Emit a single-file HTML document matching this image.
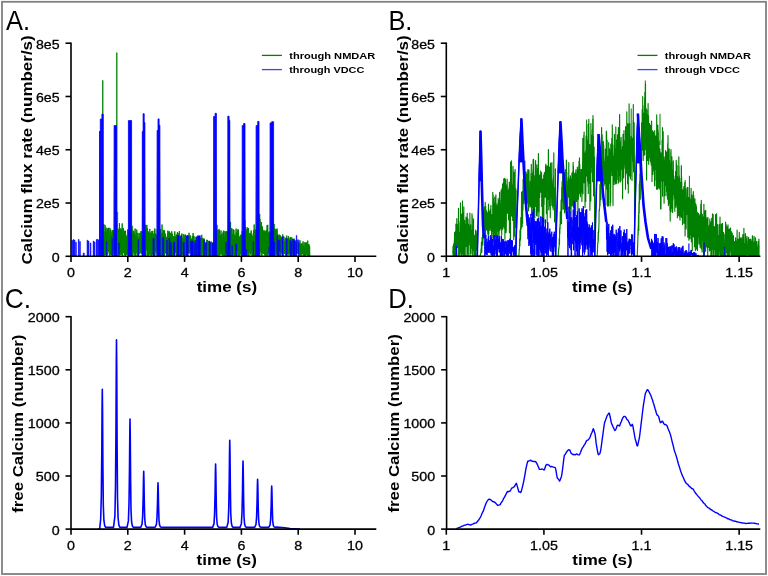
<!DOCTYPE html>
<html><head><meta charset="utf-8"><title>Calcium flux</title>
<style>html,body{margin:0;padding:0;background:#fff;}svg{display:block;will-change:transform;}
text{font-family:"Liberation Sans", sans-serif;}</style></head>
<body><svg width="768" height="576" viewBox="0 0 768 576" font-family='"Liberation Sans", sans-serif' fill="#000"><rect x="0" y="0" width="768" height="576" fill="#fff"/>
<path d="M101.96 241.28 102.04 254.71 102.12 241.08 102.2 243.61 102.28 254.79 102.36 239.77 102.44 241.37 102.52 248.13 102.6 236.43 102.68 251.37 102.76 236.1 102.84 256.21 102.92 251.03 103 253.41 103.08 249.63 103.16 254.14 103.24 234.01 103.32 225.75 103.4 233.75 103.48 229.69 103.56 230.94 103.64 235.08 103.72 239 103.8 233.95 103.88 253.12 103.96 248.67 104.04 251.02 104.12 247.46 104.2 249.68 104.28 237.09 104.36 254.8 104.44 237.03 104.52 236.41 104.6 237.98 104.68 249.53 104.76 237.43 104.84 231.79 104.92 255.36 105 237.34 105.08 225.14 105.16 234.32 105.24 236.87 105.32 249.22 105.4 250.6 105.48 234.19 105.56 234.65 105.64 236.57 105.72 254.81 105.8 230.89 105.88 241.05 105.96 249.21 106.04 227.53 106.12 237.09 106.2 239.4 106.28 239.94 106.36 237.2 106.44 250.38 106.52 239.66 106.6 238.61 106.68 255.93 106.76 249.63 106.84 234.53 106.92 237.74 107 232.29 107.08 240.95 107.16 237.44 107.24 228.92 107.32 236.86 107.4 233.07 107.48 254.48 107.56 254.95 107.64 240.02 107.72 251.44 107.8 254.08 107.88 232.12 107.96 228.25 108.04 234.11 108.12 228.51 108.2 232.34 108.28 232.25 108.36 235.57 108.44 236.85 108.52 238.04 108.6 251.64 108.68 234.87 108.76 242.8 108.84 241.61 108.92 227.72 109 237.77 109.08 239.87 109.16 236.88 109.24 237.48 109.32 248.34 109.4 240.36 109.48 243.95 109.56 251.02 109.64 255.38 109.72 255.74 109.8 236.37 109.88 241.35 109.96 238.37 110.04 228.32 110.12 233.45 110.2 236.33 110.28 243.61 110.36 231.28 110.44 255.05 110.52 239.94 110.6 232.61 110.68 237.28 110.76 251.16 110.84 229.77 110.92 241.09 111 235.26 111.08 243.98 111.16 240.16 111.24 251.21 111.32 239.37 111.4 242.25 111.48 249.71 111.56 255.12 111.64 237.2 111.72 250.23 111.8 251.2 111.88 253.17 111.96 254.23 112.04 231.61 112.12 249.75 112.2 235.51 112.28 241.57 112.36 253.01 112.44 255.15 112.52 243.04 112.6 239.68 112.68 252.95 112.76 237.62 112.84 229.95 112.92 255.57 113 248.82 113.08 235.22 113.16 240.79 113.24 230.23 113.32 253.34 113.4 239.9 113.48 244.88 113.56 233.58 113.64 251.52 113.72 250.5 113.8 246.46 113.88 253.07 113.96 250.25 114.04 238.43 114.12 234.21 114.2 244.01 114.28 248.85 114.36 232.8 114.44 245.06 114.52 250.39 114.6 238.77 114.68 234.78 114.76 238 114.84 253.53 114.92 242.34 115 244.76 115.08 235.19 115.16 242.47 115.24 241.53 115.32 236.52 115.4 235.07 115.48 238.12 115.56 237.24 115.64 237.42 115.72 243.04 115.8 253.47 115.88 245.21 115.96 242.65 116.04 239.93 116.12 252.96 116.2 245.05 116.28 223.62 116.36 234.38 116.44 222.61 116.52 249.04 116.6 240.06 116.68 227.18 116.76 234.99 116.84 228.43 116.92 239.59 117 249.62 117.08 225.09 117.16 245.02 117.24 231.13 117.32 230.81 117.4 247.15 117.48 253.41 117.56 255.67 117.64 231.31 117.72 255.03 117.8 232.51 117.88 233.05 117.96 231.48 118.04 252.32 118.12 233.86 118.2 230.79 118.28 253.77 118.36 234.08 118.44 252.12 118.52 252.28 118.6 253.95 118.68 228.91 118.76 231.21 118.84 248.4 118.92 228.84 119 243.55 119.08 248.29 119.16 244 119.24 249.41 119.32 243.73 119.4 225.7 119.48 223.12 119.56 235.88 119.64 231.73 119.72 228.26 119.8 254.84 119.88 228.15 119.96 249.28 120.04 245.37 120.12 250.23 120.2 255.21 120.28 240.87 120.36 249.21 120.44 251.03 120.52 250.23 120.6 252.48 120.68 252.26 120.76 229.75 120.84 231.83 120.92 231.17 121 250.78 121.08 228.71 121.16 242.17 121.24 249.32 121.32 245.35 121.4 252.91 121.48 230.68 121.56 239.44 121.64 255.06 121.72 252.95 121.8 251 121.88 235.34 121.96 238.87 122.04 231.66 122.12 252.06 122.2 223.45 122.28 237.69 122.36 250.54 122.44 246.37 122.52 241.36 122.6 255.72 122.68 234.32 122.76 242.93 122.84 241.35 122.92 233.29 123 239.37 123.08 237.91 123.16 238.62 123.24 234.59 123.32 227.92 123.4 233.61 123.48 250.41 123.56 235.07 123.64 253.05 123.72 241.62 123.8 239.44 123.88 236.2 123.96 237.5 124.04 244.27 124.12 250.34 124.2 253.19 124.28 238.34 124.36 254.36 124.44 254.83 124.52 253.15 124.6 230.7 124.68 254.06 124.76 238.3 124.84 240.31 124.92 240 125 255.36 125.08 234.25 125.16 251.53 125.24 237.46 125.32 237.7 125.4 255.68 125.48 241.02 125.56 230.82 125.64 239.82 125.72 243.17 125.8 250.93 125.88 236.4 125.96 239.44 126.04 243.26 126.12 241.84 126.2 248.84 126.28 236.65 126.36 251.38 126.44 236.36 126.52 254.78 126.6 254.33 126.68 245.71 126.76 244.97 126.84 239.19 126.92 242.07 127 238.99 127.08 244 127.16 234.82 127.24 254.68 127.32 249.96 127.4 252.44 127.48 241.08 127.56 248.03 127.64 229.46 127.72 242 127.8 231.77 127.88 241.44 127.96 239.71 128.04 241.39 128.12 254.24 128.2 254.88 128.28 255.48 128.36 231.51 128.44 244.15 128.52 251.01 128.6 237.32 128.68 254.55 128.76 233.94 128.84 239.36 128.92 243.99 129 242.96 129.08 243.46 129.16 231.19 129.24 238.6 129.32 236.71 129.4 251.29 129.48 229.13 129.56 235.42 129.64 234.11 129.72 231.64 129.8 236.31 129.88 240.7 129.96 253.34 130.04 244.53 130.12 242.79 130.2 251.15 130.28 252.81 130.36 238.58 130.44 239.8 130.52 256.16 130.6 235.34 130.68 251.33 130.76 249.45 130.84 228.54 130.92 240.8 131 250.89 131.08 247.63 131.16 250.26 131.24 236.4 131.32 254.37 131.4 249.51 131.48 230.4 131.56 233.92 131.64 249.87 131.72 233.28 131.8 230.07 131.88 250.41 131.96 238.33 132.04 255.31 132.12 252.03 132.2 233.74 132.28 234.2 132.36 234.36 132.44 240.4 132.52 236.24 132.6 247.09 132.68 234.52 132.76 237.97 132.84 255.68 132.92 248.5 133 250.49 133.08 244.7 133.16 237.24 133.24 235.83 133.32 252.3 133.4 232.3 133.48 248.28 133.56 239.07 133.64 244.91 133.72 230.73 133.8 249.85 133.88 241.85 133.96 232.45 134.04 245.97 134.12 233.18 134.2 253.74 134.28 243.82 134.36 241.61 134.44 253.73 134.52 250.82 134.6 238.84 134.68 250.16 134.76 255.48 134.84 241.61 134.92 242.72 135 235.88 135.08 228.58 135.16 228.64 135.24 236.7 135.32 239.08 135.4 254.51 135.48 244.48 135.56 239.02 135.64 235.38 135.72 238.81 135.8 255.72 135.88 238.02 135.96 253.38 136.04 242.08 136.12 250.34 136.2 238.57 136.28 245.44 136.36 236.75 136.44 232.89 136.52 237.72 136.6 241.68 136.68 243.45 136.76 229.6 136.84 242.97 136.92 236.24 137 253.18 137.08 243.39 137.16 243.87 137.24 252.68 137.32 239.91 137.4 255.75 137.48 240.39 137.56 242.85 137.64 253.79 137.72 239.45 137.8 237.52 137.88 241.28 137.96 232.86 138.04 253.82 138.12 245.81 138.2 240.68 138.28 247.76 138.36 250.41 138.44 256.24 138.52 243.1 138.6 240.54 138.68 239.92 138.76 243.29 138.84 254.79 138.92 246.69 139 250.3 139.08 253.68 139.16 235.7 139.24 232.93 139.32 246.78 139.4 240.95 139.48 243.73 139.56 237.92 139.64 237.32 139.72 241.38 139.8 253.51 139.88 251.01 139.96 241.39 140.04 236.98 140.12 241.6 140.2 250.22 140.28 237.51 140.36 242.76 140.44 253.1 140.52 234.73 140.6 242.25 140.68 236.34 140.76 233.95 140.84 246.72 140.92 231.34 141 252.91 141.08 234.32 141.16 251.49 141.24 251.96 141.32 231.36 141.4 243.9 141.48 239.69 141.56 233.92 141.64 238.53 141.72 253.91 141.8 252.23 141.88 246.47 141.96 239.35 142.04 254.07 142.12 235.99 142.2 251.91 142.28 245.64 142.36 252.73 142.44 237.69 142.52 239.3 142.6 245.83 142.68 246.24 142.76 237.65 142.84 242.99 142.92 241.28 143 245.34 143.08 238.22 143.16 253.84 143.24 242.87 143.32 248.43 143.4 242.56 143.48 235.98 143.56 231.1 143.64 233.17 143.72 245.02 143.8 253.17 143.88 235.2 143.96 231.07 144.04 252.98 144.12 253.71 144.2 247.25 144.28 238.9 144.36 230.82 144.44 254.2 144.52 232.5 144.6 249.76 144.68 249.52 144.76 235.75 144.84 255.54 144.92 253.78 145 240.7 145.08 232.25 145.16 234.49 145.24 239.5 145.32 251.41 145.4 236.6 145.48 250.4 145.56 240.68 145.64 225.58 145.72 252.58 145.8 255.53 145.88 254.44 145.96 226.56 146.04 237.31 146.12 240.13 146.2 229 146.28 240.4 146.36 243.61 146.44 233.11 146.52 238.34 146.6 250.4 146.68 239.76 146.76 237 146.84 224.86 146.92 241.78 147 239.02 147.08 237.73 147.16 233.69 147.24 228.07 147.32 254.6 147.4 254.93 147.48 253.33 147.56 229.51 147.64 255.56 147.72 240.52 147.8 252.45 147.88 250.21 147.96 232.84 148.04 233.92 148.12 232.86 148.2 231.45 148.28 252.93 148.36 236.33 148.44 255.15 148.52 239.9 148.6 232.4 148.68 238.03 148.76 250.54 148.84 255.75 148.92 243.57 149 254.72 149.08 242.62 149.16 232.39 149.24 238.36 149.32 253.72 149.4 244.14 149.48 234.28 149.56 237.77 149.64 233.51 149.72 231.24 149.8 228.9 149.88 234.04 149.96 237.71 150.04 253.65 150.12 251.93 150.2 240.18 150.28 244.47 150.36 254.53 150.44 242.12 150.52 240.49 150.6 232.76 150.68 243.88 150.76 242.98 150.84 237.82 150.92 254.57 151 236.78 151.08 253.34 151.16 256.22 151.24 242.93 151.32 241.22 151.4 242.94 151.48 240.73 151.56 239.48 151.64 254.81 151.72 231.13 151.8 246.15 151.88 254.42 151.96 234.13 152.04 240.03 152.12 245.29 152.2 250.61 152.28 251.58 152.36 239.07 152.44 230.93 152.52 234.77 152.6 245.45 152.68 254.4 152.76 254.71 152.84 246.14 152.92 244.8 153 238.95 153.08 243.99 153.16 236.62 153.24 241.41 153.32 233.68 153.4 238.28 153.48 250.63 153.56 253.79 153.64 243.7 153.72 245.7 153.8 237.63 153.88 254.24 153.96 256.21 154.04 235.69 154.12 248.42 154.2 235.04 154.28 230.55 154.36 240.55 154.44 250.83 154.52 247.87 154.6 235.06 154.68 256.03 154.76 246.35 154.84 228.48 154.92 230.74 155 237.42 155.08 243.16 155.16 244.82 155.24 250.65 155.32 233.59 155.4 237.32 155.48 234.23 155.56 234.75 155.64 251.74 155.72 240.93 155.8 245.17 155.88 250.84 155.96 244.74 156.04 250.47 156.12 254.49 156.2 238.52 156.28 234.54 156.36 243.3 156.44 237.99 156.52 240.84 156.6 243.59 156.68 250.21 156.76 242.42 156.84 239.56 156.92 249.65 157 240.99 157.08 236.79 157.16 246.37 157.24 229.54 157.32 232.11 157.4 234.76 157.48 239.69 157.56 236.28 157.64 238.63 157.72 242.18 157.8 247.28 157.88 239.96 157.96 253.03 158.04 242.91 158.12 238.23 158.2 237.41 158.28 242.62 158.36 244.21 158.44 253.32 158.52 236.08 158.6 231.15 158.68 231.39 158.76 239.86 158.84 238.54 158.92 239.25 159 243.08 159.08 255.2 159.16 241.45 159.24 235.71 159.32 236.3 159.4 236.3 159.48 228.66 159.56 252.92 159.64 255.2 159.72 232.73 159.8 239.67 159.88 238.36 159.96 239.93 160.04 229.62 160.12 240.14 160.2 238.69 160.28 254.56 160.36 235.94 160.44 234.74 160.52 232.67 160.6 255.86 160.68 252.99 160.76 244.38 160.84 246.56 160.92 244.57 161 238.49 161.08 250.28 161.16 242.55 161.24 244.05 161.32 235.64 161.4 241.08 161.48 236.91 161.56 256.21 161.64 241.84 161.72 254.92 161.8 236.51 161.88 234.18 161.96 245.64 162.04 224.49 162.12 237.14 162.2 232.64 162.28 243.94 162.36 252.07 162.44 255.12 162.52 238.5 162.6 233.61 162.68 245.63 162.76 250.93 162.84 241.08 162.92 242.53 163 242.59 163.08 241 163.16 234.52 163.24 252.27 163.32 229.93 163.4 250.85 163.48 236.09 163.56 238.76 163.64 244.93 163.72 238.26 163.8 255.52 163.88 230.16 163.96 235.82 164.04 233.58 164.12 240.46 164.2 255.74 164.28 250.84 164.36 230.35 164.44 239.66 164.52 240.76 164.6 231.02 164.68 236.46 164.76 251.54 164.84 244.43 164.92 246.11 165 239.58 165.08 236.73 165.16 234.11 165.24 241.94 165.32 252.67 165.4 241.23 165.48 253.35 165.56 233.76 165.64 252.33 165.72 237.39 165.8 244.14 165.88 237.77 165.96 243.9 166.04 239.43 166.12 236.83 166.2 236.84 166.28 252.69 166.36 254.78 166.44 254.26 166.52 240.62 166.6 241.13 166.68 246.61 166.76 251.5 166.84 243.18 166.92 239.2 167 250.65 167.08 238.43 167.16 240.81 167.24 247.71 167.32 254.7 167.4 238.8 167.48 240.97 167.56 252.12 167.64 246.22 167.72 230.76 167.8 238.02 167.88 240.45 167.96 248.83 168.04 255.11 168.12 234.91 168.2 250.99 168.28 254.2 168.36 234.41 168.44 239.91 168.52 232.36 168.6 255.78 168.68 248.86 168.76 252.97 168.84 251.63 168.92 244.59 169 230.88 169.08 241.49 169.16 232.12 169.24 236.15 169.32 244.61 169.4 253.66 169.48 240.45 169.56 251.7 169.64 253.2 169.72 233.5 169.8 237.99 169.88 238.92 169.96 237.49 170.04 239.44 170.12 251.58 170.2 241.42 170.28 233.05 170.36 241.49 170.44 252.48 170.52 256.22 170.6 232.83 170.68 235.33 170.76 240.54 170.84 243.25 170.92 239.29 171 241.87 171.08 248.86 171.16 238.13 171.24 254.64 171.32 242.38 171.4 239.57 171.48 255.5 171.56 254.47 171.64 238.33 171.72 231.32 171.8 232.29 171.88 241.49 171.96 252.27 172.04 246.51 172.12 256.18 172.2 245.32 172.28 254.84 172.36 233.88 172.44 252.64 172.52 256.3 172.6 250.94 172.68 236.68 172.76 254.82 172.84 241.83 172.92 239.3 173 245.48 173.08 254.7 173.16 237.05 173.24 253.58 173.32 240.16 173.4 240.95 173.48 246.91 173.56 236.29 173.64 244.26 173.72 245.43 173.8 237.75 173.88 243.32 173.96 239.43 174.04 251.65 174.12 240.92 174.2 243.43 174.28 241.15 174.36 252.22 174.44 252.59 174.52 243.48 174.6 239.63 174.68 246.31 174.76 231.4 174.84 233.92 174.92 253.69 175 238.45 175.08 252.43 175.16 249.98 175.24 239.39 175.32 236.38 175.4 250.44 175.48 245.61 175.56 237.71 175.64 242.63 175.72 240.23 175.8 236.95 175.88 240.11 175.96 251.98 176.04 239.62 176.12 250.89 176.2 239.74 176.28 234.38 176.36 256.29 176.44 251.26 176.52 255.85 176.6 253.17 176.68 240.05 176.76 239.42 176.84 250.56 176.92 252.57 177 251.4 177.08 253.78 177.16 251.15 177.24 239.74 177.32 251.18 177.4 232.11 177.48 242.82 177.56 253.25 177.64 237.65 177.72 242.59 177.8 241.84 177.88 247.59 177.96 252.41 178.04 234.94 178.12 255.75 178.2 252.34 178.28 235.3 178.36 246.62 178.44 237.03 178.52 236.02 178.6 255.95 178.68 241.84 178.76 242.48 178.84 233.3 178.92 232.95 179 256.04 179.08 252.78 179.16 246.07 179.24 241.94 179.32 236.76 179.4 231 179.48 242.22 179.56 246.76 179.64 250.76 179.72 252.08 179.8 245.78 179.88 239.66 179.96 246.33 180.04 237.06 180.12 236.15 180.2 253.98 180.28 256.21 180.36 246.49 180.44 245.87 180.52 255.22 180.6 247.3 180.68 239.59 180.76 247.73 180.84 255.67 180.92 254.6 181 244.77 181.08 252.6 181.16 238.45 181.24 235.53 181.32 255.11 181.4 238.76 181.48 253.88 181.56 238.14 181.64 251.8 181.72 237.8 181.8 233.57 181.88 237.19 181.96 248.38 182.04 244.86 182.12 237.63 182.2 237.8 182.28 244.1 182.36 255.12 182.44 242.22 182.52 247.32 182.6 251.17 182.68 252.56 182.76 247.7 182.84 242.34 182.92 249.6 183 241.1 183.08 245.99 183.16 245.17 183.24 234.08 183.32 246.27 183.4 247.35 183.48 247.08 183.56 252.2 183.64 239.01 183.72 239.18 183.8 253.01 183.88 239.29 183.96 243.93 184.04 244.19 184.12 241.51 184.2 246.74 184.28 240.21 184.36 254.85 184.44 255.75 184.52 245.87 184.6 247.11 184.68 241.33 184.76 242.77 184.84 234.62 184.92 255.11 185 245.36 185.08 255.52 185.16 239.33 185.24 236.45 185.32 238.54 185.4 246.45 185.48 234.73 185.56 243.1 185.64 255.22 185.72 245 185.8 251.76 185.88 242.21 185.96 245.13 186.04 246.84 186.12 246.26 186.2 242.62 186.28 254.68 186.36 244.72 186.44 252.65 186.52 243.88 186.6 245.15 186.68 252.17 186.76 253.91 186.84 242.98 186.92 237.67 187 250.49 187.08 236.28 187.16 252.04 187.24 244.89 187.32 243.12 187.4 255.85 187.48 235.09 187.56 236.03 187.64 239.95 187.72 251.57 187.8 239.37 187.88 243.02 187.96 252.08 188.04 251.48 188.12 239.28 188.2 242.64 188.28 240.6 188.36 239.18 188.44 235.87 188.52 239.45 188.6 252.96 188.68 238.53 188.76 243.23 188.84 252.63 188.92 243.46 189 232.79 189.08 253.59 189.16 251.75 189.24 252.88 189.32 245.29 189.4 238.37 189.48 244.61 189.56 253.39 189.64 235.48 189.72 243.29 189.8 236.47 189.88 252.15 189.96 241.2 190.04 251.61 190.12 244.35 190.2 247.4 190.28 239.54 190.36 249.32 190.44 241.27 190.52 235.64 190.6 241.96 190.68 238.09 190.76 240.48 190.84 247.59 190.92 241.55 191 244.04 191.08 249.05 191.16 243.6 191.24 251.08 191.32 247.58 191.4 254.93 191.48 244.58 191.56 251.32 191.64 240.26 191.72 238.67 191.8 245.12 191.88 240.19 191.96 242.37 192.04 252.12 192.12 253.85 192.2 243.12 192.28 237.18 192.36 235.97 192.44 239.86 192.52 253.15 192.6 240.55 192.68 251.66 192.76 256.03 192.84 251.87 192.92 247.46 193 248.31 193.08 233.15 193.16 254.94 193.24 236.12 193.32 241.14 193.4 236.15 193.48 240.76 193.56 240.38 193.64 242.33 193.72 239.69 193.8 256.12 193.88 244.41 193.96 241.27 194.04 236.27 194.12 239.02 194.2 254.04 194.28 241.1 194.36 248.39 194.44 240.16 194.52 244.35 194.6 247.48 194.68 240.69 194.76 252.63 194.84 248.44 194.92 255.63 195 242.94 195.08 255.37 195.16 254.99 195.24 251.75 195.32 244.17 195.4 240.17 195.48 244.3 195.56 241.68 195.64 243.67 195.72 255.13 195.8 251.89 195.88 243.53 195.96 241.93 196.04 253.14 196.12 251.65 196.2 241.47 196.28 247.07 196.36 237.11 196.44 238.15 196.52 243.95 196.6 241.43 196.68 236.74 196.76 244.18 196.84 243.2 196.92 255.44 197 248.71 197.08 251.79 197.16 236.96 197.24 256.24 197.32 240.85 197.4 241.47 197.48 252.05 197.56 251.7 197.64 243.14 197.72 236.93 197.8 241.03 197.88 256.27 197.96 241.08 198.04 240.02 198.12 237 198.2 246.67 198.28 243.04 198.36 243.38 198.44 252.43 198.52 246.1 198.6 243.54 198.68 242.7 198.76 246.88 198.84 254.45 198.92 252.15 199 247.06 199.08 239.21 199.16 239.04 199.24 241.76 199.32 252.83 199.4 249.01 199.48 252.77 199.56 238.24 199.64 238.97 199.72 250.11 199.8 243.57 199.88 241.12 199.96 243.93 200.04 253.63 200.12 252.61 200.2 252.86 200.28 242.68 200.36 246.24 200.44 241.9 200.52 246.57 200.6 243.37 200.68 237.95 200.76 244.59 200.84 241.8 200.92 243.84 201 241.39 201.08 256.12 201.16 245.51 201.24 243.41 201.32 256.3 201.4 244.02 201.48 252.39 201.56 253.83 201.64 242.98 201.72 234.77 201.8 243.64 201.88 252.62 201.96 256 202.04 253.37 202.12 237.83 202.2 252.08 202.28 248.37 202.36 242.45 202.44 242.61 202.52 244.58 202.6 243.77 202.68 238.06 202.76 252.18 202.84 242.63 202.92 254.55 203 241.83 203.08 243.79 203.16 240.65 203.24 245.08 203.32 256.05 203.4 243.2 203.48 251.29 203.56 238.63 203.64 253.69 203.72 245.6 203.8 253.67 203.88 244.44 203.96 238.58 204.04 255.44 204.12 239.47 204.2 244.89 204.28 252.74 204.36 248.46 204.44 239.02 204.52 252.15 204.6 253.49 204.68 255.38 204.76 252.29 204.84 252.42 204.92 254.9 205 252.11 205.08 252.66 205.16 249.41 205.24 254.15 205.32 254.59 205.4 253.44 205.48 245.88 205.56 243.68 205.64 243.59 205.72 253.03 205.8 254.92 205.88 245.15 205.96 243.33 206.04 251.12 206.12 242.43 206.2 246.86 206.28 253.06 206.36 251.95 206.44 243.74 206.52 244.03 206.6 246.49 206.68 248.45 206.76 256.03 206.84 239.77 206.92 255.8 207 245.74 207.08 253.69 207.16 247.73 207.24 242.94 207.32 239.96 207.4 245.9 207.48 244.16 207.56 241.51 207.64 248.6 207.72 254.08 207.8 248.32 207.88 245.24 207.96 243.55 208.04 252.25 208.12 246.44 208.2 243.41 208.28 248.71 208.36 248.83 208.44 255.86 208.52 241.2 208.6 246.72 208.68 241.34 208.76 243.63 208.84 246.46 208.92 244.44 209 248.23 209.08 242.82 209.16 240.72 209.24 245.99 209.32 254.74 209.4 247.11 209.48 247.63 209.56 244.79 209.64 250.36 209.72 246.93 209.8 248.27 209.88 254.41 209.96 249.48 210.04 243.44 210.12 255.02 210.2 254.7 210.28 245.81 210.36 256.06 210.44 250.18 210.52 246.86 210.6 256.04 210.68 246.27 210.76 255.16 210.84 243.59 210.92 244.89 211 243.99 211.08 256.09 211.16 253 211.24 242.39 211.32 255 211.4 241.64 211.48 252.98 211.56 250.68 211.64 253.75 211.72 251.09 211.8 253.22 211.88 244.59 211.96 247.42 212.04 254.11 212.12 255.4 212.2 244.41 212.28 250.08 212.36 254.12 212.44 249.94 212.52 245.16 212.6 248.4 212.68 248.95 212.76 253.86 212.84 245.88 212.92 244.61 213 254.24 213.08 242.19 213.16 245.69 213.24 246.52 213.32 243.74 213.4 255.03 213.48 249.52 213.56 253.19 213.64 243.21 213.72 255.74 213.8 245.69 213.88 244.94 213.96 246.56 214.04 251.02 214.12 255.51 214.2 244.97 214.28 243.32 214.36 254.38 214.44 245.6 214.52 241.02 214.6 249.41 214.68 254.13 214.76 243.52 214.84 253.93 214.92 253.37 215 246.17 215.08 255.44 215.16 255.5 215.24 253.57 215.32 245.34 215.4 244.16 215.48 244.57 215.56 252.93 215.64 253.22 215.72 251.29 215.8 252.35 215.88 241.17 215.96 238.75 216.04 251.98 216.12 255.01 216.2 250.91 216.28 228.38 216.36 247.68 216.44 237.52 216.52 244.19 216.6 255.85 216.68 235.84 216.76 256.23 216.84 236.08 216.92 237.02 217 252.43 217.08 230.64 217.16 253.31 217.24 253.81 217.32 253.98 217.4 247.31 217.48 245.08 217.56 250.19 217.64 255.57 217.72 230.26 217.8 235.18 217.88 251.94 217.96 239.71 218.04 229.99 218.12 239.95 218.2 239.41 218.28 238.9 218.36 255.61 218.44 231.19 218.52 241.63 218.6 233.44 218.68 253.79 218.76 239.25 218.84 254.4 218.92 255.26 219 228.98 219.08 244.25 219.16 232.91 219.24 241.83 219.32 243.38 219.4 244.31 219.48 242.62 219.56 230.43 219.64 255.32 219.72 237.32 219.8 254.72 219.88 242.96 219.96 251.26 220.04 252.66 220.12 249.52 220.2 240.56 220.28 242.82 220.36 237.62 220.44 237.03 220.52 234.94 220.6 235.03 220.68 249.07 220.76 244.27 220.84 250.96 220.92 254.66 221 230.54 221.08 253.12 221.16 253.4 221.24 234.44 221.32 252.83 221.4 243.39 221.48 245.2 221.56 239.91 221.64 236.4 221.72 250.73 221.8 254.43 221.88 254.39 221.96 239.79 222.04 244.14 222.12 244.33 222.2 242.16 222.28 252.23 222.36 240.76 222.44 254.71 222.52 250.6 222.6 255.44 222.68 247.07 222.76 255.29 222.84 232.69 222.92 244.41 223 252.99 223.08 239.22 223.16 252.88 223.24 237.71 223.32 236.81 223.4 230.76 223.48 230.78 223.56 255.38 223.64 254.62 223.72 252.03 223.8 236.35 223.88 240.1 223.96 254.3 224.04 235.97 224.12 230.87 224.2 252.63 224.28 256.02 224.36 241.98 224.44 249.49 224.52 246.4 224.6 255.05 224.68 255.61 224.76 254.9 224.84 239.48 224.92 237.51 225 252.85 225.08 253.31 225.16 245.11 225.24 236.01 225.32 231.93 225.4 236.41 225.48 237.75 225.56 254.06 225.64 243.57 225.72 236.63 225.8 253.58 225.88 253.91 225.96 231.13 226.04 237.41 226.12 254.53 226.2 246.86 226.28 240.21 226.36 231.4 226.44 251.79 226.52 241.66 226.6 253.24 226.68 253.6 226.76 254.09 226.84 239.36 226.92 235.41 227 249.79 227.08 242.01 227.16 239.96 227.24 255.92 227.32 231.33 227.4 232.52 227.48 239.66 227.56 254.11 227.64 238.45 227.72 254.63 227.8 253.91 227.88 236.36 227.96 251.36 228.04 242.5 228.12 232.35 228.2 252.05 228.28 253.55 228.36 244.97 228.44 240.61 228.52 255.43 228.6 234.98 228.68 249.5 228.76 243.76 228.84 239.36 228.92 240.51 229 250.04 229.08 255.73 229.16 241.52 229.24 239.53 229.32 254.38 229.4 251.23 229.48 233.5 229.56 234.64 229.64 246.23 229.72 243.16 229.8 253.17 229.88 235.19 229.96 240.34 230.04 235.69 230.12 225.37 230.2 255.41 230.28 240.56 230.36 231.89 230.44 249.56 230.52 243.66 230.6 253 230.68 238.7 230.76 234.77 230.84 241.26 230.92 241.56 231 254.1 231.08 254.27 231.16 250.07 231.24 254.78 231.32 236.17 231.4 231.73 231.48 250.22 231.56 256.03 231.64 228.37 231.72 243.37 231.8 253.58 231.88 228.6 231.96 249.12 232.04 236.56 232.12 253.71 232.2 255.68 232.28 255.34 232.36 238.95 232.44 233.92 232.52 245.97 232.6 240.75 232.68 251.4 232.76 253.11 232.84 244.56 232.92 244.2 233 251.5 233.08 239.93 233.16 249.76 233.24 229.34 233.32 255.29 233.4 243.07 233.48 254.13 233.56 242.31 233.64 254.92 233.72 245.61 233.8 234.9 233.88 229.94 233.96 230.41 234.04 254.61 234.12 235.72 234.2 244.87 234.28 249.49 234.36 256.26 234.44 253.03 234.52 249.32 234.6 244.18 234.68 235.87 234.76 234.54 234.84 244.7 234.92 236.42 235 252.43 235.08 244.15 235.16 254.47 235.24 242.45 235.32 254.13 235.4 247.7 235.48 252.64 235.56 239.23 235.64 238.51 235.72 241.07 235.8 243.22 235.88 235.3 235.96 251.59 236.04 232.03 236.12 228.62 236.2 237.95 236.28 232.5 236.36 250.61 236.44 244.06 236.52 234.31 236.6 238.43 236.68 239.55 236.76 241.49 236.84 245.79 236.92 242.18 237 237.09 237.08 233.85 237.16 243.44 237.24 240.55 237.32 250.89 237.4 233.92 237.48 246.18 237.56 233.49 237.64 237.21 237.72 230.06 237.8 229.35 237.88 250.48 237.96 255.54 238.04 237.72 238.12 251.21 238.2 250.34 238.28 241.95 238.36 253.97 238.44 229.8 238.52 241.27 238.6 233.6 238.68 256.15 238.76 254.52 238.84 255.97 238.92 254.03 239 254.96 239.08 247.04 239.16 238.78 239.24 240.54 239.32 240.16 239.4 254.39 239.48 252.95 239.56 238.71 239.64 242.1 239.72 237.36 239.8 244.62 239.88 255.12 239.96 235.98 240.04 238.82 240.12 247.78 240.2 241.6 240.28 250.01 240.36 254.2 240.44 250.52 240.52 234.82 240.6 249.67 240.68 236.63 240.76 252.21 240.84 237.31 240.92 242.01 241 239.47 241.08 252.26 241.16 241.65 241.24 236.83 241.32 254.28 241.4 240.37 241.48 256.07 241.56 239.35 241.64 241.93 241.72 240.91 241.8 242.9 241.88 234.72 241.96 251.83 242.04 254.46 242.12 252.32 242.2 231.25 242.28 253.6 242.36 248.01 242.44 245.81 242.52 242.7 242.6 250.56 242.68 251.48 242.76 238.69 242.84 247.16 242.92 233.28 243 232.78 243.08 241.63 243.16 243.58 243.24 250.07 243.32 250.54 243.4 233.31 243.48 237.52 243.56 245.4 243.64 243.61 243.72 250.17 243.8 233.62 243.88 233.84 243.96 238.89 244.04 234.35 244.12 255.54 244.2 232.39 244.28 255.06 244.36 233.7 244.44 249.29 244.52 249.99 244.6 241 244.68 239.48 244.76 229.34 244.84 220.13 244.92 230.12 245 234.33 245.08 251.08 245.16 238.55 245.24 255.86 245.32 241.77 245.4 236.18 245.48 247.2 245.56 254.74 245.64 251.31 245.72 230.44 245.8 238.66 245.88 229.2 245.96 249.86 246.04 232.61 246.12 250.95 246.2 251.44 246.28 238.01 246.36 241.85 246.44 232.23 246.52 234.58 246.6 239.82 246.68 255.81 246.76 250.75 246.84 234.74 246.92 253.06 247 232.95 247.08 228.98 247.16 234.63 247.24 251.75 247.32 227.4 247.4 253.94 247.48 252.46 247.56 237.27 247.64 250.38 247.72 238.77 247.8 241.13 247.88 253.37 247.96 256.28 248.04 250.68 248.12 228.03 248.2 251 248.28 245.3 248.36 240.8 248.44 254.19 248.52 228.35 248.6 229.71 248.68 237.14 248.76 233.58 248.84 242.15 248.92 256.08 249 239.23 249.08 233.94 249.16 235.72 249.24 239.67 249.32 234 249.4 242.28 249.48 233.27 249.56 251.3 249.64 241.52 249.72 250.2 249.8 236.37 249.88 232.86 249.96 233.73 250.04 253.62 250.12 240.22 250.2 243.45 250.28 239.71 250.36 252.19 250.44 253 250.52 233.59 250.6 248.54 250.68 252.09 250.76 236.53 250.84 254.96 250.92 241.91 251 253.52 251.08 241.62 251.16 230.49 251.24 242.45 251.32 238.99 251.4 250.82 251.48 239.8 251.56 251.87 251.64 242.5 251.72 235.95 251.8 233.6 251.88 235.66 251.96 239.79 252.04 238.09 252.12 240.78 252.2 256.01 252.28 236.35 252.36 246.99 252.44 240.11 252.52 236.44 252.6 239.96 252.68 236.45 252.76 256.02 252.84 242.62 252.92 240.07 253 254.39 253.08 252.44 253.16 244.47 253.24 240.69 253.32 238.96 253.4 234.35 253.48 250.92 253.56 253.54 253.64 234.47 253.72 230.02 253.8 237.69 253.88 235.7 253.96 245.06 254.04 238.21 254.12 244.09 254.2 224.53 254.28 234.73 254.36 253.25 254.44 255.78 254.52 253.73 254.6 254.15 254.68 242.45 254.76 251.5 254.84 240.41 254.92 253.62 255 250.64 255.08 243.81 255.16 241.11 255.24 245.8 255.32 242.17 255.4 235.75 255.48 252.24 255.56 251.21 255.64 256.14 255.72 236.47 255.8 250.05 255.88 251.92 255.96 229.39 256.04 251.5 256.12 240.57 256.2 232 256.28 243.81 256.36 243.58 256.44 251.55 256.52 230.42 256.6 254.28 256.68 250.04 256.76 244.74 256.84 242.7 256.92 238.51 257 254.04 257.08 239.97 257.16 233.99 257.24 229.05 257.32 252.08 257.4 238.03 257.48 234.75 257.56 249.68 257.64 254.61 257.72 225.85 257.8 233.76 257.88 250.04 257.96 240.62 258.04 242.08 258.12 227.35 258.2 249.33 258.28 236.59 258.36 252.86 258.44 230.41 258.52 224.3 258.6 228.57 258.68 237.72 258.76 222.15 258.84 236.62 258.92 220.19 259 246.98 259.08 228.14 259.16 217.63 259.24 221.15 259.32 231.6 259.4 237.58 259.48 255.45 259.56 254.22 259.64 229.86 259.72 221.12 259.8 231.88 259.88 231.16 259.96 219.13 260.04 238.38 260.12 232.3 260.2 235.32 260.28 251.48 260.36 251.46 260.44 232.02 260.52 236.63 260.6 239.08 260.68 235.77 260.76 224.7 260.84 250.97 260.92 251.75 261 231.87 261.08 252.6 261.16 251.91 261.24 255.15 261.32 233.46 261.4 222 261.48 239.99 261.56 234 261.64 228.17 261.72 239.64 261.8 249.69 261.88 243.09 261.96 255.59 262.04 233.71 262.12 237.86 262.2 249.94 262.28 226.2 262.36 232.31 262.44 253.01 262.52 250.82 262.6 228.69 262.68 232.07 262.76 237.29 262.84 234.41 262.92 251.21 263 251.21 263.08 253.24 263.16 232.83 263.24 232.53 263.32 251.86 263.4 231.17 263.48 252.6 263.56 253.99 263.64 247.12 263.72 235.75 263.8 238.61 263.88 235.33 263.96 230.08 264.04 235.05 264.12 245.73 264.2 232.17 264.28 251.74 264.36 231.58 264.44 233.3 264.52 254.87 264.6 255.26 264.68 253.71 264.76 238.05 264.84 243.74 264.92 249.71 265 247.43 265.08 232.32 265.16 236.24 265.24 255.11 265.32 230.73 265.4 255.47 265.48 255.17 265.56 251.27 265.64 245.03 265.72 247.89 265.8 237.11 265.88 252.96 265.96 242.06 266.04 241.24 266.12 247.12 266.2 241.06 266.28 233.98 266.36 254.68 266.44 240.85 266.52 252.65 266.6 230.24 266.68 251 266.76 234.12 266.84 255.74 266.92 237.19 267 255.6 267.08 225.2 267.16 254.35 267.24 249.72 267.32 232.67 267.4 237.01 267.48 229.36 267.56 236.85 267.64 247.68 267.72 224.85 267.8 250.7 267.88 254.63 267.96 240.14 268.04 239.68 268.12 250.33 268.2 239.07 268.28 251.64 268.36 253.54 268.44 232.77 268.52 237.09 268.6 239.06 268.68 250.01 268.76 237.57 268.84 237.19 268.92 236.47 269 234.76 269.08 231.59 269.16 239.51 269.24 235.06 269.32 236.56 269.4 236.33 269.48 238.42 269.56 233.31 269.64 244.23 269.72 250.62 269.8 239.31 269.88 250.92 269.96 241.53 270.04 245.96 270.12 255.52 270.2 235.31 270.28 251.61 270.36 235.99 270.44 231.06 270.52 254.57 270.6 244.47 270.68 242.64 270.76 236.77 270.84 255.62 270.92 253.95 271 248.14 271.08 250.76 271.16 236.72 271.24 240.17 271.32 250.66 271.4 235.3 271.48 234.28 271.56 253.6 271.64 255.5 271.72 230.5 271.8 226.89 271.88 250.7 271.96 251.65 272.04 254.54 272.12 250.74 272.2 241.35 272.28 238.12 272.36 238.29 272.44 237.57 272.52 247.55 272.6 237.01 272.68 229.99 272.76 237.09 272.84 237.48 272.92 251.04 273 234.75 273.08 250.42 273.16 240.92 273.24 230.37 273.32 249.59 273.4 254.67 273.48 236.33 273.56 252.3 273.64 238.18 273.72 233.89 273.8 236.48 273.88 243.12 273.96 254.68 274.04 232.19 274.12 233.91 274.2 250.49 274.28 232.84 274.36 233.38 274.44 228.38 274.52 235.62 274.6 251.58 274.68 231.62 274.76 237.01 274.84 241.66 274.92 241.85 275 241.25 275.08 228.87 275.16 255.69 275.24 255.2 275.32 236.42 275.4 240.87 275.48 235.45 275.56 236.46 275.64 252.06 275.72 252.19 275.8 230.29 275.88 230.66 275.96 229.55 276.04 235.25 276.12 240.85 276.2 229.73 276.28 251.71 276.36 253.8 276.44 244.93 276.52 237.18 276.6 230.04 276.68 245.56 276.76 240.33 276.84 233.05 276.92 255.11 277 232.76 277.08 228.54 277.16 238.49 277.24 245.09 277.32 234.43 277.4 253.47 277.48 244.42 277.56 237.86 277.64 253.15 277.72 239.12 277.8 255.87 277.88 251.52 277.96 249.6 278.04 241.44 278.12 235.82 278.2 241.93 278.28 252.67 278.36 241.08 278.44 240.25 278.52 254.99 278.6 253.06 278.68 242.62 278.76 239.53 278.84 240.83 278.92 234.43 279 234.79 279.08 241.67 279.16 242.79 279.24 234.96 279.32 244.99 279.4 240.43 279.48 237.99 279.56 240.46 279.64 235.51 279.72 240.27 279.8 251.71 279.88 242.65 279.96 239.99 280.04 236.91 280.12 237.36 280.2 238.27 280.28 246.39 280.36 235.43 280.44 235.64 280.52 240.21 280.6 239.57 280.68 240.18 280.76 241.11 280.84 255.59 280.92 247.51 281 251.97 281.08 239.89 281.16 252.54 281.24 248.02 281.32 243.99 281.4 239.46 281.48 242.99 281.56 236.97 281.64 245.43 281.72 251.54 281.8 252.56 281.88 253.4 281.96 244.41 282.04 247.29 282.12 251.56 282.2 245.9 282.28 251.74 282.36 235.98 282.44 252.61 282.52 247.69 282.6 241.71 282.68 236.69 282.76 234.45 282.84 240.44 282.92 236.68 283 239.78 283.08 236.12 283.16 256.01 283.24 247.68 283.32 248.04 283.4 252.8 283.48 239.57 283.56 251.58 283.64 236.55 283.72 252.92 283.8 238.7 283.88 238.02 283.96 236.98 284.04 243.51 284.12 251.77 284.2 245.62 284.28 254.01 284.36 240.88 284.44 241.12 284.52 242.36 284.6 246.25 284.68 253.45 284.76 243.19 284.84 245.27 284.92 254.13 285 246.31 285.08 242.65 285.16 251.27 285.24 247.66 285.32 249.64 285.4 237.8 285.48 238.91 285.56 252.96 285.64 245.12 285.72 255.46 285.8 251.39 285.88 241.04 285.96 253.09 286.04 240.54 286.12 242.42 286.2 255.39 286.28 255.63 286.36 241.41 286.44 254.36 286.52 238.95 286.6 252.8 286.68 241.04 286.76 240.39 286.84 235.59 286.92 252.06 287 251.51 287.08 253.44 287.16 246.76 287.24 242.39 287.32 243.45 287.4 238.52 287.48 242.31 287.56 245.6 287.64 242.92 287.72 252.01 287.8 252.43 287.88 245.17 287.96 254.08 288.04 246.39 288.12 255.42 288.2 244.62 288.28 252.27 288.36 239.69 288.44 241.67 288.52 251.79 288.6 236.22 288.68 241.13 288.76 243.65 288.84 243.11 288.92 240.29 289 254.05 289.08 242.75 289.16 246.07 289.24 240.18 289.32 242.78 289.4 246.49 289.48 250.04 289.56 251.7 289.64 242.55 289.72 246.17 289.8 248.3 289.88 237.89 289.96 242.42 290.04 253.19 290.12 245.2 290.2 244.62 290.28 254.84 290.36 255.44 290.44 242.06 290.52 237.09 290.6 245.77 290.68 241.46 290.76 246.31 290.84 243.22 290.92 241.76 291 254.84 291.08 239.04 291.16 241.82 291.24 240.46 291.32 241.53 291.4 254.39 291.48 242.7 291.56 251.97 291.64 247.2 291.72 237.35 291.8 244.05 291.88 254.41 291.96 240.01 292.04 241.23 292.12 247.47 292.2 247.02 292.28 249.69 292.36 250.44 292.44 238.79 292.52 240.32 292.6 247.23 292.68 244.19 292.76 253.15 292.84 239.59 292.92 243.97 293 239.73 293.08 253.09 293.16 255.92 293.24 238.76 293.32 250.21 293.4 254.99 293.48 246.34 293.56 246.62 293.64 243.43 293.72 254.57 293.8 245.73 293.88 248.28 293.96 248.83 294.04 242.73 294.12 250.11 294.2 238.69 294.28 242.88 294.36 247.13 294.44 247.01 294.52 252.03 294.6 244.23 294.68 254.7 294.76 253.37 294.84 240.72 294.92 246.66 295 245.92 295.08 246.29 295.16 253.73 295.24 252.35 295.32 252.1 295.4 244.46 295.48 247.09 295.56 255.89 295.64 253.49 295.72 247.62 295.8 240.77 295.88 250.44 295.96 245.83 296.04 249.02 296.12 247.49 296.2 245.21 296.28 244.14 296.36 243.39 296.44 247.77 296.52 252.59 296.6 253.4 296.68 248.5 296.76 245.68 296.84 248.38 296.92 252.12 297 253.13 297.08 254.05 297.16 244.95 297.24 246.74 297.32 241.55 297.4 244.58 297.48 247.7 297.56 239.82 297.64 248.51 297.72 242.68 297.8 253.03 297.88 246.48 297.96 245.58 298.04 242.21 298.12 253.52 298.2 245.9 298.28 243.97 298.36 243.92 298.44 247 298.52 243.36 298.6 244.03 298.68 254.18 298.76 247.31 298.84 252.94 298.92 248.12 299 243.77 299.08 253.95 299.16 242.64 299.24 245.82 299.32 249.85 299.4 246.43 299.48 254.33 299.56 252.62 299.64 252.57 299.72 243.12 299.8 246.28 299.88 256.11 299.96 240.3 300.04 253.86 300.12 249.69 300.2 246.18 300.28 254.57 300.36 244.99 300.44 245.41 300.52 244.28 300.6 254 300.68 250.17 300.76 254.98 300.84 244.72 300.92 245.53 301 245.38 301.08 255.68 301.16 251.73 301.24 245.22 301.32 253.92 301.4 244.06 301.48 244.12 301.56 253.47 301.64 252.78 301.72 253.59 301.8 249.05 301.88 253.2 301.96 243 302.04 250.51 302.12 254.22 302.2 247.76 302.28 250.16 302.36 248.94 302.44 245 302.52 249.33 302.6 247.62 302.68 248.05 302.76 253.07 302.84 252.67 302.92 247.29 303 249.48 303.08 241.43 303.16 245.05 303.24 255.79 303.32 250.8 303.4 253.83 303.48 247.44 303.56 254.73 303.64 246.08 303.72 245.66 303.8 248.47 303.88 255.05 303.96 255.03 304.04 246.5 304.12 246.74 304.2 247.75 304.28 252.85 304.36 250.59 304.44 255.61 304.52 248.46 304.6 255.79 304.68 256.16 304.76 254.07 304.84 253.22 304.92 242.13 305 254.52 305.08 252.96 305.16 250.35 305.24 245.59 305.32 243.34 305.4 255.71 305.48 255.21 305.56 248.91 305.64 245.39 305.72 254.36 305.8 246.52 305.88 253.36 305.96 254.9 306.04 247.29 306.12 247.43 306.2 242.55 306.28 243.84 306.36 248.85 306.44 253.27 306.52 253.82 306.6 249.09 306.68 242.72 306.76 250.14 306.84 249.36 306.92 253.18 307 251.13 307.08 246.6 307.16 255.35 307.24 248.76 307.32 254.48 307.4 254.78 307.48 249.76 307.56 245.91 307.64 245.85 307.72 240.6 307.8 243.68 307.88 255.29 307.96 244.22 308.04 256.02 308.12 247.57 308.2 246.03 308.28 251.39 308.36 254.25 308.44 255.65 308.52 247.16 308.6 254.69 308.68 254.47 308.76 249.79 308.84 248.56 308.92 244.2 309 247.91 309.08 247.78 309.16 247.29 309.24 255.67 309.32 245.71 309.4 248.86 309.48 248.14 309.56 255.61 309.6 246.3 309.8 256.3" fill="none" stroke="#008000" stroke-width="1.0" stroke-linejoin="round"/>
<path d="M103.4 256.3V224H104.3V256.3ZM116.9 256.3V212H117.8V256.3ZM131.8 256.3V226H132.7V256.3ZM145.1 256.3V225H146V256.3ZM160.1 256.3V229H161V256.3ZM216.6 256.3V225H217.5V256.3ZM230 256.3V222H230.9V256.3ZM245.2 256.3V227H246.1V256.3ZM259.2 256.3V214H260.1V256.3ZM273.8 256.3V224H274.7V256.3Z" fill="#008000" stroke="#008000" stroke-width="0.4"/>
<path d="M102.75 236.3V80.3M116.8 236.3V52.5" stroke="#008000" stroke-width="1.3"/>
<path d="M71.8 256.3V240.5H72.6V256.3ZM73 256.3V239.6H73.8V256.3ZM74.2 256.3V240H75V256.3ZM75.6 256.3V242.2H76.4V256.3ZM78.3 256.3V239.4H79.1V256.3ZM79.6 256.3V241.5H80.4V256.3ZM83.2 256.3V253H84.3V256.3ZM87 256.3V240.2H87.8V256.3ZM88.2 256.3V241H89V256.3ZM90.2 256.3V243H91V256.3ZM93.1 256.3V241H93.9V256.3ZM94.3 256.3V242H95V256.3ZM96.2 256.3V239.6H97V256.3ZM97.4 256.3V239.3H98.2V256.3ZM98.5 256.3V240H99.5V256.3ZM106.3 256.3V241.67H106.8V256.3ZM111.9 256.3V238.2H112.4V256.3ZM118.6 256.3V242.93H119.3V256.3ZM128.1 256.3V249.52H129.5V256.3ZM138 256.3V239.46H138.5V256.3ZM152.9 256.3V238.43H154.3V256.3ZM162.4 256.3V237.7H163.8V256.3ZM166.5 256.3V240.33H167.5V256.3ZM168.9 256.3V238.24H169.9V256.3ZM170.3 256.3V242.72H171.7V256.3ZM173.5 256.3V242.07H175V256.3ZM177 256.3V235.57H179.2V256.3ZM180.6 256.3V235.85H181.6V256.3ZM183 256.3V242.61H184.5V256.3ZM186.1 256.3V235.86H188.3V256.3ZM190.3 256.3V241.01H193.3V256.3ZM194.3 256.3V242.81H195.3V256.3ZM195.7 256.3V236.92H196.7V256.3ZM197.4 256.3V235.66H200.4V256.3ZM203.6 256.3V240.25H204.6V256.3ZM205.6 256.3V242.42H206.6V256.3ZM209 256.3V241.71H210.5V256.3ZM212.1 256.3V243H213.1V256.3ZM225.7 256.3V242.34H226.4V256.3ZM231.9 256.3V245.71H232.4V256.3ZM235.5 256.3V244.09H236.9V256.3ZM245.8 256.3V249.65H246.8V256.3ZM253 256.3V241.65H253.5V256.3ZM257.5 256.3V247.25H258.9V256.3ZM268.8 256.3V247.24H269.3V256.3ZM271.2 256.3V244.86H271.7V256.3ZM272.1 256.3V238.31H272.6V256.3ZM274.2 256.3V242.19H274.9V256.3ZM276.9 256.3V235.66H277.4V256.3ZM277.8 256.3V240.06H278.8V256.3ZM279.5 256.3V239.76H280.2V256.3ZM282 256.3V236.72H283V256.3ZM286.2 256.3V238.66H287.2V256.3ZM289.8 256.3V240.45H290.8V256.3ZM291.2 256.3V241.75H291.7V256.3ZM292.7 256.3V239.49H293.4V256.3ZM293.8 256.3V240.45H295.2V256.3ZM296.2 256.3V235.39H296.9V256.3ZM298.5 256.3V239.66H298.8V256.3Z" fill="#0000ff" stroke="#0000ff" stroke-width="0.5"/>
<path d="M99.5 256.3V131.3H100.1V256.3ZM100.3 256.3V119.1H101.7V256.3ZM101.9 256.3V114.1H103.2V256.3ZM114.1 256.3V125.6H116.5V256.3ZM128.4 256.3V120.6H131.6V256.3ZM142.3 256.3V131.4H142.9V256.3ZM143.1 256.3V113.7H144.2V256.3ZM144.4 256.3V122.5H144.9V256.3ZM157.1 256.3V130.4H157.8V256.3ZM158 256.3V118.9H159.1V256.3ZM159.3 256.3V125.15H159.9V256.3ZM213.6 256.3V116.5H214.9V256.3ZM215.1 256.3V113.3H216.4V256.3ZM227.8 256.3V116.2H229.1V256.3ZM229.3 256.3V120.4H229.8V256.3ZM242.2 256.3V125.6H243.4V256.3ZM243.6 256.3V123.5H245V256.3ZM256.1 256.3V125.6H257.5V256.3ZM257.7 256.3V121.4H259V256.3ZM270.1 256.3V122.9H271.5V256.3ZM271.7 256.3V121.7H273.6V256.3Z" fill="#0000ff" stroke="#0000ff" stroke-width="0.8"/>
<path d="M98.95 256.3L99.4 150V256.3ZM103.75 256.3L103.3 150V256.3ZM113.55 256.3L114 150V256.3ZM117.05 256.3L116.6 150V256.3ZM127.85 256.3L128.3 150V256.3ZM132.15 256.3L131.7 150V256.3ZM141.75 256.3L142.2 150V256.3ZM145.95 256.3L145.5 150V256.3ZM155.85 256.3L156.3 150V256.3ZM160.45 256.3L160 150V256.3ZM213.05 256.3L213.5 150V256.3ZM216.95 256.3L216.5 150V256.3ZM227.25 256.3L227.7 150V256.3ZM230.35 256.3L229.9 150V256.3ZM241.65 256.3L242.1 150V256.3ZM245.55 256.3L245.1 150V256.3ZM255.55 256.3L256 150V256.3ZM259.55 256.3L259.1 150V256.3ZM269.55 256.3L270 150V256.3ZM274.15 256.3L273.7 150V256.3Z" fill="#0000ff"/>
<path d="M452.8 250.82 452.9 253.39 453 246.32 453.1 256.3 453.2 250.27 453.3 250.05 453.4 248.99 453.5 246.6 453.6 244.05 453.7 256.3 453.8 250.94 453.9 248.33 454 256.25 454.1 242.76 454.2 253.07 454.3 247.74 454.4 239.39 454.5 253.61 454.6 232.45 454.7 252.22 454.8 236.82 454.9 249.34 455 256.3 455.1 250.62 455.2 238.11 455.3 244.05 455.4 240.27 455.5 231.43 455.6 231.94 455.7 244.26 455.8 249.53 455.9 224.08 456 242.56 456.1 248.86 456.2 244.3 456.3 231.66 456.4 254.49 456.5 228.83 456.6 249.9 456.7 256.3 456.8 218.68 456.9 245.06 457 245.59 457.1 244.44 457.2 232.62 457.3 237.82 457.4 224.76 457.5 242.8 457.6 247.53 457.7 232.92 457.8 229.59 457.9 234.9 458 240.42 458.1 241.13 458.2 238.96 458.3 240.95 458.4 223.62 458.5 208.4 458.6 247.45 458.7 256.3 458.8 221.41 458.9 230.77 459 242.98 459.1 251.27 459.2 247.24 459.3 255.32 459.4 237.87 459.5 243.87 459.6 243.72 459.7 232.45 459.8 254 459.9 246.21 460 250.87 460.1 232.36 460.2 251.41 460.3 223.03 460.4 242.57 460.5 202.72 460.6 223.05 460.7 246.96 460.8 230.4 460.9 238.93 461 213.7 461.1 256.3 461.2 244.51 461.3 235.6 461.4 241.74 461.5 240.38 461.6 255.85 461.7 238.51 461.8 214.02 461.9 231.44 462 253.72 462.1 243.36 462.2 229.05 462.3 244.06 462.4 236.98 462.5 244.15 462.6 212.62 462.7 222.62 462.8 245.11 462.9 232.46 463 240.73 463.1 256.3 463.2 231.43 463.3 239.34 463.4 228.12 463.5 227.26 463.6 235.08 463.7 215.82 463.8 206.82 463.9 255.41 464 234.97 464.1 252.11 464.2 238.25 464.3 238.69 464.4 245.95 464.5 246.66 464.6 220.29 464.7 253.47 464.8 223.69 464.9 239.82 465 256.3 465.1 238.28 465.2 256.3 465.3 232.63 465.4 245.69 465.5 238.16 465.6 243.15 465.7 226.15 465.8 225.4 465.9 242.23 466 217.02 466.1 226.69 466.2 246.46 466.3 229.9 466.4 226.39 466.5 223.6 466.6 240.17 466.7 233.55 466.8 240.34 466.9 236 467 256.3 467.1 232.94 467.2 213.35 467.3 240.24 467.4 238.84 467.5 240.88 467.6 218.39 467.7 253.47 467.8 238.69 467.9 238.61 468 219.17 468.1 245.27 468.2 238.52 468.3 256.3 468.4 234.25 468.5 224.05 468.6 241.2 468.7 228.26 468.8 244.89 468.9 226.33 469 238.24 469.1 237.1 469.2 239.54 469.3 233.69 469.4 230.13 469.5 239.42 469.6 233.12 469.7 242.13 469.8 237.02 469.9 213.15 470 239.7 470.1 256.3 470.2 244.22 470.3 247.82 470.4 246.15 470.5 235.15 470.6 224.92 470.7 250.5 470.8 253.44 470.9 247.7 471 246.07 471.1 245.77 471.2 240.86 471.3 244.45 471.4 241.45 471.5 245.17 471.6 230.45 471.7 234.2 471.8 248.12 471.9 237.71 472 213.87 472.1 243.17 472.2 215.66 472.3 256.3 472.4 250.11 472.5 249.62 472.6 234.54 472.7 229.4 472.8 239.8 472.9 242.47 473 233.69 473.1 244.14 473.2 250.09 473.3 249.16 473.4 231.07 473.5 218.74 473.6 242.74 473.7 235.53 473.8 247.72 473.9 256.3 474 256.3 474.1 246.08 474.2 254.99 474.3 256.3 474.4 243.49 474.5 245.92 474.6 252.14 474.7 242.63 474.8 237.7 474.9 235.05 475 243.11 475.1 236.47 475.2 251.47 475.3 239.56 475.4 256.3 475.5 255.75 475.6 230.15 475.7 254.35 475.8 238.92 475.9 256.3 476 248.42 476.1 242.67 476.2 250.05 476.3 237.45 476.4 246.52 476.5 247.09 476.6 241.69 476.7 247.11 476.8 233.1 476.9 248.82 477 231.05 477.1 249.47 477.2 247.95 477.3 250.31 477.4 237.72 477.5 256.3 477.6 256.3 477.7 256.3 477.8 256.3 477.9 256.3 478 256.3 478.1 256.3 478.2 256.3 478.3 256.3 478.4 256.3 478.5 256.3 478.6 256.3 478.7 256.3 478.8 256.3 478.9 256.3 479 256.3 479.1 256.3 479.2 256.3 479.3 256.3 479.4 256.3 479.5 256.3 479.6 256.3 479.7 256.3 479.8 256.3 479.9 256.3 480 256.3 480.1 256.3 480.2 256.3 480.3 255.5 480.4 254.61 480.5 253.95 480.6 254.17 480.7 253.47 480.8 252.5 480.9 253.33 481 250.05 481.1 249.06 481.2 248.18 481.3 252.59 481.4 242.12 481.5 247.35 481.6 247.05 481.7 245.05 481.8 252.25 481.9 247.56 482 245.36 482.1 237.44 482.2 242.71 482.3 237.69 482.4 238.79 482.5 238.71 482.6 233.89 482.7 239.5 482.8 245.03 482.9 240.59 483 234.21 483.1 218.02 483.2 239.17 483.3 238.56 483.4 227.98 483.5 224.83 483.6 233.44 483.7 220.16 483.8 233.4 483.9 215.75 484 216.2 484.1 224.16 484.2 208.96 484.3 222.48 484.4 227.15 484.5 207.1 484.6 230.09 484.7 214.18 484.8 226.14 484.9 222.6 485 215.49 485.1 214.84 485.2 202.27 485.3 213.11 485.4 212.38 485.5 238.11 485.6 231.51 485.7 206.21 485.8 229.3 485.9 223.21 486 216.89 486.1 225.85 486.2 229.37 486.3 215.06 486.4 218.23 486.5 222.92 486.6 210.87 486.7 223.22 486.8 220.49 486.9 214.26 487 212.63 487.1 224.69 487.2 230.7 487.3 225.05 487.4 212.73 487.5 229.51 487.6 223.53 487.7 227.96 487.8 233.94 487.9 212.54 488 220.51 488.1 215.83 488.2 213.02 488.3 242.82 488.4 231.86 488.5 204 488.6 226.66 488.7 216.6 488.8 234.18 488.9 223.28 489 220.69 489.1 223.99 489.2 226.51 489.3 222.94 489.4 220.44 489.5 221.32 489.6 228 489.7 211.33 489.8 222.86 489.9 221.71 490 218.05 490.1 230.38 490.2 209.59 490.3 218.92 490.4 213.81 490.5 228.07 490.6 217.51 490.7 222.74 490.8 226.13 490.9 205.4 491 226.64 491.1 213.98 491.2 219.03 491.3 220.42 491.4 230.02 491.5 229.19 491.6 240 491.7 223.05 491.8 215.99 491.9 215.59 492 227.86 492.1 237.97 492.2 224.31 492.3 214.31 492.4 223.4 492.5 223.1 492.6 220.57 492.7 212 492.8 192.22 492.9 214 493 231.37 493.1 222.02 493.2 195.15 493.3 219.52 493.4 198.83 493.5 241.42 493.6 221.27 493.7 205.56 493.8 227.89 493.9 210.02 494 225.05 494.1 218.85 494.2 205.12 494.3 225.95 494.4 203.02 494.5 233.49 494.6 218.76 494.7 206.15 494.8 196.99 494.9 236.4 495 234.43 495.1 202.96 495.2 236.57 495.3 219.27 495.4 214.63 495.5 216.09 495.6 213.85 495.7 233.73 495.8 218.56 495.9 194.9 496 241.38 496.1 226.94 496.2 203.39 496.3 212 496.4 205.32 496.5 216.59 496.6 220.67 496.7 218.69 496.8 208.49 496.9 205.92 497 225.78 497.1 214.14 497.2 242.71 497.3 205.2 497.4 224.64 497.5 215.42 497.6 205.28 497.7 231.44 497.8 215.94 497.9 203.11 498 210.13 498.1 226.77 498.2 198.42 498.3 231.14 498.4 222.26 498.5 209.9 498.6 230.61 498.7 235.54 498.8 220.71 498.9 215.08 499 236.61 499.1 231.99 499.2 200.42 499.3 209.64 499.4 209.38 499.5 206.67 499.6 192.21 499.7 223.7 499.8 212.76 499.9 212.83 500 230.15 500.1 203.68 500.2 210.34 500.3 214.65 500.4 204.99 500.5 209.18 500.6 220.96 500.7 210.29 500.8 228.46 500.9 199.85 501 212.77 501.1 190.19 501.2 208.09 501.3 199.85 501.4 228.39 501.5 219.7 501.6 216.3 501.7 234.93 501.8 229.21 501.9 218.9 502 198.86 502.1 187.96 502.2 207.93 502.3 203.13 502.4 198.81 502.5 203.77 502.6 183.97 502.7 229.2 502.8 191 502.9 197.62 503 215.55 503.1 183.32 503.2 220.48 503.3 220.62 503.4 202.09 503.5 190.63 503.6 199.4 503.7 178.78 503.8 226.85 503.9 206.82 504 194.84 504.1 192.09 504.2 214.25 504.3 228.19 504.4 186.02 504.5 196.45 504.6 178.24 504.7 215.24 504.8 207.17 504.9 239.35 505 202.61 505.1 197.74 505.2 193.47 505.3 217.49 505.4 179.22 505.5 215.81 505.6 208 505.7 196.37 505.8 190.21 505.9 220.28 506 232.65 506.1 197.09 506.2 212.05 506.3 230.66 506.4 194.26 506.5 199.88 506.6 184.94 506.7 201.38 506.8 202.35 506.9 197.12 507 192.14 507.1 179.12 507.2 182.73 507.3 188.34 507.4 213.15 507.5 195.43 507.6 190.12 507.7 213.23 507.8 211.74 507.9 191.46 508 193.38 508.1 213.09 508.2 208.5 508.3 190.02 508.4 206.49 508.5 202.3 508.6 219.79 508.7 189.34 508.8 216.15 508.9 209.18 509 187.03 509.1 218.62 509.2 216.34 509.3 182.12 509.4 232.7 509.5 184.67 509.6 188.11 509.7 197.2 509.8 213.91 509.9 210.99 510 200.55 510.1 222.88 510.2 208.07 510.3 223.19 510.4 242.73 510.5 204.62 510.6 162.08 510.7 194.57 510.8 184.93 510.9 202.78 511 202.8 511.1 182.4 511.2 183.45 511.3 197.04 511.4 198 511.5 160.94 511.6 215.83 511.7 201.29 511.8 200.59 511.9 205.23 512 184.86 512.1 199.75 512.2 216.43 512.3 216.96 512.4 207.43 512.5 195.95 512.6 187.53 512.7 220.44 512.8 208.12 512.9 193.45 513 166.43 513.1 186.41 513.2 170 513.3 218.92 513.4 202.53 513.5 188.05 513.6 195.2 513.7 239.55 513.8 218.14 513.9 178.49 514 197.18 514.1 180.09 514.2 172.38 514.3 201.68 514.4 236.31 514.5 223.03 514.6 199.46 514.7 192.88 514.8 201.76 514.9 214.6 515 175.85 515.1 169.44 515.2 227.38 515.3 202.5 515.4 222.86 515.5 201.62 515.6 220.6 515.7 188.32 515.8 205.27 515.9 221.35 516 213.07 516.1 190.24 516.2 256.3 516.3 256.3 516.4 256.3 516.5 256.3 516.6 256.3 516.7 256.3 516.8 256.3 516.9 256.3 517 256.3 517.1 256.3 517.2 256.3 517.3 256.3 517.4 256.3 517.5 256.3 517.6 256.3 517.7 256.3 517.8 256.3 517.9 256.3 518 256.3 518.1 256.3 518.2 256.3 518.3 256.3 518.4 256.3 518.5 256.3 518.6 256.3 518.7 256.3 518.8 256.3 518.9 255.13 519 252.93 519.1 253.9 519.2 249.12 519.3 249.95 519.4 249.93 519.5 249.31 519.6 238.98 519.7 246.42 519.8 246.02 519.9 245.76 520 230.18 520.1 234.66 520.2 235.64 520.3 232.42 520.4 240.22 520.5 227.87 520.6 237.44 520.7 232.19 520.8 217.68 520.9 218.89 521 220.83 521.1 223.41 521.2 228.92 521.3 218.18 521.4 225.79 521.5 202.87 521.6 191.98 521.7 210.4 521.8 216.44 521.9 206.88 522 198.58 522.1 211.84 522.2 226.8 522.3 203.12 522.4 194.4 522.5 191.22 522.6 223.23 522.7 197.5 522.8 204.14 522.9 210.58 523 207.46 523.1 179.23 523.2 203.23 523.3 201.57 523.4 196.59 523.5 203.61 523.6 182.04 523.7 188.6 523.8 182.38 523.9 199.72 524 180.49 524.1 194.56 524.2 174.39 524.3 187.42 524.4 184.11 524.5 187.34 524.6 190.56 524.7 186.24 524.8 185.68 524.9 160.98 525 203.08 525.1 180.07 525.2 185 525.3 177.23 525.4 201.2 525.5 176.08 525.6 194.48 525.7 203.18 525.8 209.16 525.9 203.06 526 195.55 526.1 171.94 526.2 204.35 526.3 203.06 526.4 198.53 526.5 198.11 526.6 188.64 526.7 180.91 526.8 201.87 526.9 204.44 527 174.07 527.1 199.8 527.2 191.03 527.3 199.52 527.4 191.47 527.5 202.57 527.6 201.48 527.7 199.69 527.8 169.63 527.9 198.92 528 188.66 528.1 173.01 528.2 197.48 528.3 169.79 528.4 200.06 528.5 210.8 528.6 181.4 528.7 200.51 528.8 194.26 528.9 196.97 529 170.04 529.1 196.49 529.2 190.1 529.3 198.31 529.4 188.46 529.5 203.21 529.6 192.12 529.7 197.65 529.8 207.05 529.9 190.96 530 202.04 530.1 191.63 530.2 195.68 530.3 181.39 530.4 199.2 530.5 205.41 530.6 187.53 530.7 199.56 530.8 194.58 530.9 173.54 531 193.6 531.1 206.93 531.2 182.1 531.3 164.24 531.4 191.66 531.5 179.97 531.6 215.13 531.7 188.34 531.8 188.86 531.9 180.22 532 192.44 532.1 181.15 532.2 176.45 532.3 188.16 532.4 177.75 532.5 207.48 532.6 172.79 532.7 188.08 532.8 179.48 532.9 169.8 533 212.5 533.1 159.65 533.2 209.65 533.3 169.34 533.4 190.51 533.5 221.19 533.6 159.21 533.7 169.88 533.8 207.88 533.9 191.78 534 181.59 534.1 188.91 534.2 175.66 534.3 191.14 534.4 210.72 534.5 183.97 534.6 191.44 534.7 206.68 534.8 217.96 534.9 181.07 535 193.84 535.1 181.38 535.2 180.14 535.3 183.59 535.4 180.19 535.5 164.32 535.6 160.52 535.7 178.59 535.8 190.95 535.9 206.49 536 181.28 536.1 186.46 536.2 198.34 536.3 199.44 536.4 187.04 536.5 187.87 536.6 215.64 536.7 183.68 536.8 181.37 536.9 164.87 537 194.61 537.1 184.46 537.2 215.88 537.3 183.31 537.4 199.88 537.5 201.58 537.6 211.89 537.7 168.91 537.8 210.59 537.9 188 538 186.24 538.1 183.18 538.2 181.89 538.3 182.57 538.4 153.57 538.5 194.88 538.6 188.31 538.7 173.49 538.8 186.35 538.9 220.71 539 192.7 539.1 181.45 539.2 211.99 539.3 175.37 539.4 184.68 539.5 178.79 539.6 183.35 539.7 197.43 539.8 195.16 539.9 175.94 540 184.67 540.1 187.75 540.2 180.46 540.3 185.84 540.4 175.76 540.5 175.49 540.6 186.84 540.7 171.01 540.8 192.2 540.9 183.17 541 172.43 541.1 176.9 541.2 178.81 541.3 183.41 541.4 187.37 541.5 182.57 541.6 172.83 541.7 206.53 541.8 198.74 541.9 187.02 542 199.31 542.1 190.08 542.2 181.41 542.3 186.4 542.4 223.28 542.5 199.63 542.6 200.3 542.7 179.1 542.8 193.68 542.9 218.04 543 191.01 543.1 200.48 543.2 203.14 543.3 194.04 543.4 207.72 543.5 187.82 543.6 191.7 543.7 175.04 543.8 222.68 543.9 188.68 544 185.76 544.1 204.59 544.2 176.8 544.3 183.87 544.4 172.32 544.5 184.15 544.6 178.02 544.7 191.73 544.8 181.76 544.9 174.72 545 179.16 545.1 181.7 545.2 175.81 545.3 197.24 545.4 193.25 545.5 185.38 545.6 165.51 545.7 190.78 545.8 164.07 545.9 185.73 546 183.63 546.1 174.26 546.2 170.8 546.3 172.89 546.4 213.72 546.5 179.45 546.6 180.42 546.7 197.76 546.8 189.86 546.9 199.38 547 165.75 547.1 167.89 547.2 222.64 547.3 183.52 547.4 179.97 547.5 186.7 547.6 199 547.7 167.03 547.8 188.77 547.9 184.28 548 194.67 548.1 187.43 548.2 177.2 548.3 172.39 548.4 149.53 548.5 199.58 548.6 163.9 548.7 179.56 548.8 209.8 548.9 179.54 549 194.64 549.1 182.75 549.2 196.09 549.3 186.44 549.4 178.71 549.5 205.82 549.6 182.44 549.7 166.97 549.8 181.72 549.9 194.38 550 170.55 550.1 198.14 550.2 197.93 550.3 217.61 550.4 177.78 550.5 196.68 550.6 163.16 550.7 181.3 550.8 188.93 550.9 193.38 551 186.82 551.1 186.4 551.2 178.99 551.3 181.5 551.4 192.37 551.5 196.09 551.6 197.34 551.7 202.52 551.8 205.37 551.9 162.68 552 181.09 552.1 186.33 552.2 179.55 552.3 203.76 552.4 199.6 552.5 187.49 552.6 190.84 552.7 207.19 552.8 184.36 552.9 184.93 553 202.36 553.1 196.25 553.2 209.82 553.3 195.02 553.4 200.48 553.5 182.25 553.6 176.76 553.7 190.02 553.8 152.75 553.9 196.11 554 204.14 554.1 191.61 554.2 187.51 554.3 206.04 554.4 190.22 554.5 204.7 554.6 221.84 554.7 201.27 554.8 204.37 554.9 198.22 555 194.91 555.1 195.19 555.2 192.22 555.3 206.27 555.4 168.88 555.5 187.45 555.6 256.3 555.7 256.3 555.8 256.3 555.9 256.3 556 256.3 556.1 256.3 556.2 256.3 556.3 256.3 556.4 256.3 556.5 256.3 556.6 256.3 556.7 256.3 556.8 256.3 556.9 256.3 557 256.3 557.1 256.3 557.2 256.3 557.3 256.3 557.4 256.3 557.5 256.3 557.6 256.3 557.7 256.3 557.8 256.3 557.9 256.3 558 256.3 558.1 256.3 558.2 256.3 558.3 254.64 558.4 252.85 558.5 251.38 558.6 249.28 558.7 248.36 558.8 249.29 558.9 247.18 559 247.23 559.1 246.23 559.2 238.63 559.3 240.94 559.4 242.81 559.5 244.41 559.6 229.63 559.7 227.69 559.8 233.77 559.9 228.75 560 224.01 560.1 229.07 560.2 221.56 560.3 211.78 560.4 222.52 560.5 221.89 560.6 223.59 560.7 224.2 560.8 217.86 560.9 213.51 561 208.87 561.1 199.94 561.2 207.31 561.3 217.06 561.4 213 561.5 223.39 561.6 203.42 561.7 187.47 561.8 209.28 561.9 209.96 562 187.68 562.1 181.59 562.2 197.42 562.3 201.71 562.4 181.24 562.5 187.87 562.6 181.56 562.7 177.21 562.8 175.82 562.9 191.69 563 186.19 563.1 182.88 563.2 161.72 563.3 209.1 563.4 179.65 563.5 188.41 563.6 177.34 563.7 193.96 563.8 173.06 563.9 190.69 564 187.5 564.1 199.74 564.2 177.24 564.3 182.15 564.4 186.7 564.5 212.8 564.6 172.62 564.7 192.43 564.8 181.68 564.9 192.55 565 196.39 565.1 190.5 565.2 191.83 565.3 191.97 565.4 181.96 565.5 186.16 565.6 169.48 565.7 184.41 565.8 179.55 565.9 185.43 566 196.9 566.1 192.72 566.2 193.7 566.3 201.07 566.4 160.07 566.5 193.08 566.6 187.66 566.7 186.72 566.8 172.33 566.9 194.29 567 201.37 567.1 199.9 567.2 186.54 567.3 195.16 567.4 198.52 567.5 209.33 567.6 202.13 567.7 188.98 567.8 188.34 567.9 189.16 568 189.84 568.1 181.11 568.2 196.58 568.3 178.9 568.4 177.65 568.5 191.71 568.6 180.57 568.7 184.62 568.8 162.67 568.9 197.23 569 187.69 569.1 186.31 569.2 193.43 569.3 190.48 569.4 179.72 569.5 211.94 569.6 182.84 569.7 199.8 569.8 209.97 569.9 181.07 570 189.57 570.1 178.91 570.2 200.95 570.3 184.75 570.4 175.87 570.5 204.21 570.6 199.6 570.7 178.61 570.8 202.8 570.9 191.37 571 220.19 571.1 209.1 571.2 182.9 571.3 186.28 571.4 179.35 571.5 191.06 571.6 190.14 571.7 198.1 571.8 190.72 571.9 173 572 180.62 572.1 206.04 572.2 203.14 572.3 188.25 572.4 188.62 572.5 188.32 572.6 190.55 572.7 171.46 572.8 200.5 572.9 183.12 573 192.23 573.1 162.36 573.2 193.34 573.3 205.71 573.4 165.98 573.5 207.82 573.6 196.25 573.7 182.95 573.8 173.61 573.9 204.05 574 194.16 574.1 197.88 574.2 188.45 574.3 182.76 574.4 201.1 574.5 181.21 574.6 201.54 574.7 173.59 574.8 181.8 574.9 176.17 575 206.19 575.1 172.76 575.2 179.17 575.3 198.71 575.4 193.8 575.5 215.42 575.6 211.44 575.7 197.63 575.8 198.3 575.9 169.7 576 180.15 576.1 186.23 576.2 187.76 576.3 173.76 576.4 178.65 576.5 179.39 576.6 201.48 576.7 193.88 576.8 184.78 576.9 185.25 577 191.8 577.1 179.81 577.2 184.8 577.3 167.02 577.4 195.71 577.5 199.1 577.6 191.66 577.7 192.91 577.8 191.36 577.9 211.94 578 189.03 578.1 169.8 578.2 172.98 578.3 194.9 578.4 199.24 578.5 195.36 578.6 196.1 578.7 187.59 578.8 165.88 578.9 175.68 579 161.18 579.1 179.42 579.2 166.45 579.3 185.36 579.4 181.66 579.5 157.92 579.6 193.27 579.7 193.5 579.8 164.51 579.9 184.91 580 192.47 580.1 178.65 580.2 194.06 580.3 184.79 580.4 196.76 580.5 184.39 580.6 179.36 580.7 188.56 580.8 192.2 580.9 184.57 581 174.57 581.1 169.44 581.2 175.03 581.3 171.88 581.4 182.73 581.5 181.96 581.6 178.01 581.7 178.93 581.8 181.21 581.9 201.44 582 195.93 582.1 169.32 582.2 183.89 582.3 172.41 582.4 175.59 582.5 173.1 582.6 167.02 582.7 155.47 582.8 138.22 582.9 178.78 583 193.72 583.1 161.07 583.2 182.78 583.3 168.55 583.4 178.74 583.5 161.3 583.6 170.11 583.7 171.75 583.8 135.11 583.9 176.44 584 170.47 584.1 132.12 584.2 182.75 584.3 171.32 584.4 174.96 584.5 177.29 584.6 164.14 584.7 152.85 584.8 163.05 584.9 163.05 585 207.44 585.1 200.94 585.2 161.1 585.3 162.06 585.4 174.4 585.5 178.33 585.6 156.33 585.7 150.64 585.8 201.52 585.9 186 586 139.87 586.1 135.74 586.2 152.01 586.3 170.31 586.4 175.91 586.5 159.73 586.6 136.44 586.7 169.27 586.8 175.97 586.9 164.73 587 155.39 587.1 174.92 587.2 163.27 587.3 143.7 587.4 165.86 587.5 140.36 587.6 181.6 587.7 172.46 587.8 145.6 587.9 167.6 588 186.5 588.1 124.39 588.2 160.93 588.3 193.46 588.4 134.99 588.5 160.18 588.6 137.16 588.7 161.84 588.8 119.2 588.9 133.32 589 153.04 589.1 165.27 589.2 169.57 589.3 170.34 589.4 183.44 589.5 175.15 589.6 175.8 589.7 144.45 589.8 159.35 589.9 210.28 590 203.28 590.1 177.03 590.2 175.33 590.3 179.77 590.4 154.39 590.5 197.25 590.6 154.74 590.7 159.99 590.8 200.93 590.9 123.54 591 167.82 591.1 129.9 591.2 149.23 591.3 159.34 591.4 154.54 591.5 164 591.6 146.85 591.7 158.81 591.8 139.1 591.9 153.51 592 135.32 592.1 172.34 592.2 137.17 592.3 173.03 592.4 153.16 592.5 155.19 592.6 181.74 592.7 162.62 592.8 127.03 592.9 169.63 593 115.45 593.1 165.55 593.2 153.81 593.3 136.31 593.4 162.32 593.5 155.58 593.6 196.01 593.7 153.41 593.8 194.8 593.9 185.07 594 150.59 594.1 147.11 594.2 183.92 594.3 158.91 594.4 164.02 594.5 156.97 594.6 256.3 594.7 256.3 594.8 256.3 594.9 256.3 595 256.3 595.1 256.3 595.2 256.3 595.3 256.3 595.4 256.3 595.5 256.3 595.6 256.3 595.7 256.3 595.8 256.3 595.9 256.3 596 256.3 596.1 256.3 596.2 256.3 596.3 256.3 596.4 256.3 596.5 256.3 596.6 256.3 596.7 256.3 596.8 256.3 596.9 256.3 597 256.3 597.1 256.3 597.2 256.3 597.3 254.27 597.4 251.11 597.5 249.52 597.6 245.66 597.7 244.99 597.8 242.56 597.9 242.85 598 243.05 598.1 236.56 598.2 231.99 598.3 240.49 598.4 232.34 598.5 231.5 598.6 229.6 598.7 232.15 598.8 228.07 598.9 224.36 599 223.07 599.1 210.49 599.2 209.86 599.3 211.24 599.4 210.66 599.5 208.03 599.6 208.38 599.7 203.98 599.8 197.86 599.9 184.52 600 205.65 600.1 201.4 600.2 184.44 600.3 196.74 600.4 193.74 600.5 188.19 600.6 163.98 600.7 168.91 600.8 173.91 600.9 199.59 601 166.15 601.1 170.63 601.2 158.15 601.3 164.37 601.4 174.06 601.5 137.08 601.6 127.59 601.7 175.07 601.8 165.85 601.9 156.46 602 179.77 602.1 179.85 602.2 134.77 602.3 163.22 602.4 182.03 602.5 156.03 602.6 161.31 602.7 179.92 602.8 162.14 602.9 148.67 603 156.2 603.1 146.98 603.2 174.38 603.3 141.4 603.4 180.99 603.5 142.75 603.6 167.27 603.7 145.54 603.8 162.21 603.9 181.54 604 183.03 604.1 185.7 604.2 165.78 604.3 168.66 604.4 170.52 604.5 176.05 604.6 161.65 604.7 183.06 604.8 172.11 604.9 183.78 605 174.39 605.1 177.25 605.2 157.24 605.3 161.69 605.4 149.17 605.5 163.39 605.6 165.1 605.7 179.63 605.8 149.49 605.9 204.88 606 165.86 606.1 185.84 606.2 182.7 606.3 130.97 606.4 163.79 606.5 189.12 606.6 132.15 606.7 178.88 606.8 154.16 606.9 160.74 607 170.91 607.1 140.04 607.2 170.5 607.3 158.02 607.4 156.47 607.5 178.04 607.6 206.11 607.7 172.72 607.8 175.87 607.9 166.83 608 156.72 608.1 171.47 608.2 190.48 608.3 170.44 608.4 181.06 608.5 164.13 608.6 205.86 608.7 142.46 608.8 176.48 608.9 175.83 609 171.62 609.1 150.42 609.2 150.05 609.3 163.91 609.4 169.05 609.5 148.77 609.6 151.01 609.7 176.19 609.8 183.53 609.9 158.76 610 156.59 610.1 156.02 610.2 205.96 610.3 174.8 610.4 166 610.5 182.67 610.6 202.78 610.7 185.06 610.8 144.16 610.9 165.11 611 159.99 611.1 160.83 611.2 146.94 611.3 159.82 611.4 148.77 611.5 171.13 611.6 166.37 611.7 143.16 611.8 138.38 611.9 157.71 612 175.54 612.1 172.95 612.2 163.93 612.3 124.89 612.4 156.88 612.5 152.84 612.6 159.18 612.7 144.93 612.8 157.39 612.9 153.56 613 205.56 613.1 175.26 613.2 160.77 613.3 162.99 613.4 161.74 613.5 166.57 613.6 156.91 613.7 163.04 613.8 179.76 613.9 176.52 614 167.98 614.1 184.41 614.2 166.4 614.3 146.77 614.4 134.23 614.5 151.16 614.6 161.31 614.7 168.69 614.8 179.63 614.9 152.66 615 148.78 615.1 174.35 615.2 180.88 615.3 153.77 615.4 166.97 615.5 183.83 615.6 166.48 615.7 160.23 615.8 126.95 615.9 182.65 616 171.37 616.1 162.75 616.2 152.94 616.3 139.96 616.4 158.72 616.5 158.49 616.6 178.24 616.7 140.03 616.8 183.73 616.9 160.39 617 179.33 617.1 143.54 617.2 165.23 617.3 179.61 617.4 161.17 617.5 134.75 617.6 153.56 617.7 167.84 617.8 135.54 617.9 134.66 618 162.53 618.1 142.65 618.2 169.75 618.3 138.64 618.4 127.48 618.5 145.07 618.6 182.93 618.7 143.38 618.8 157.64 618.9 161.76 619 141.57 619.1 175.75 619.2 160.28 619.3 164.69 619.4 128.76 619.5 127.49 619.6 114.52 619.7 153.56 619.8 152.78 619.9 168.77 620 181.56 620.1 152.04 620.2 151.68 620.3 163.75 620.4 181.94 620.5 141.93 620.6 166.43 620.7 151.49 620.8 149.89 620.9 169.35 621 141.9 621.1 137.26 621.2 166.76 621.3 155.1 621.4 151.13 621.5 153.38 621.6 164.04 621.7 149.53 621.8 168.61 621.9 162.76 622 180.6 622.1 177.01 622.2 170.23 622.3 152.7 622.4 158.06 622.5 146.38 622.6 198.82 622.7 152.63 622.8 165.43 622.9 178.6 623 134.2 623.1 143.04 623.2 150.13 623.3 140.48 623.4 136.14 623.5 148.37 623.6 177.56 623.7 168.44 623.8 157.43 623.9 157.37 624 130.47 624.1 168.12 624.2 163.85 624.3 139.99 624.4 160.46 624.5 154.21 624.6 149.14 624.7 141.82 624.8 146.82 624.9 142.72 625 164.71 625.1 163.05 625.2 162.22 625.3 154.09 625.4 150.32 625.5 189.14 625.6 126.65 625.7 175.46 625.8 161.77 625.9 157.01 626 147.43 626.1 151.95 626.2 135.91 626.3 132.33 626.4 153.14 626.5 127.33 626.6 168.6 626.7 173.08 626.8 111.87 626.9 127.92 627 158.51 627.1 157.32 627.2 155.44 627.3 160.59 627.4 166.01 627.5 167.94 627.6 183.82 627.7 153.12 627.8 167.54 627.9 123.88 628 149.81 628.1 130.42 628.2 176.44 628.3 193.09 628.4 161.07 628.5 127.94 628.6 149.02 628.7 151.4 628.8 154.29 628.9 170.31 629 167.74 629.1 103.84 629.2 175.09 629.3 140.65 629.4 139.28 629.5 175.75 629.6 144.29 629.7 123.45 629.8 124.03 629.9 149.81 630 165.7 630.1 176.88 630.2 145.37 630.3 139.81 630.4 179.04 630.5 140.09 630.6 175.88 630.7 153.05 630.8 153.11 630.9 144.36 631 154.23 631.1 140.18 631.2 136.26 631.3 146.31 631.4 136.88 631.5 154.4 631.6 150.41 631.7 144.09 631.8 145.25 631.9 144.75 632 180.42 632.1 148.77 632.2 138.24 632.3 143.65 632.4 160.88 632.5 145.41 632.6 146.33 632.7 144.47 632.8 151.99 632.9 156.01 633 156.95 633.1 120.19 633.2 130.3 633.3 104.57 633.4 163.22 633.5 168.58 633.6 171.91 633.7 151.71 633.8 169.2 633.9 148.59 634 147.16 634.1 122.65 634.2 135.8 634.3 139.13 634.4 165.08 634.5 177.73 634.6 256.3 634.7 256.3 634.8 256.3 634.9 256.3 635 256.3 635.1 256.3 635.2 256.3 635.3 256.3 635.4 256.3 635.5 256.3 635.6 256.3 635.7 256.3 635.8 256.3 635.9 256.3 636 256.3 636.1 256.3 636.2 256.3 636.3 256.3 636.4 256.3 636.5 256.3 636.6 256.3 636.7 256.3 636.8 256.3 636.9 256.3 637 256.3 637.1 256.3 637.2 256.3 637.3 253.44 637.4 251.4 637.5 249.36 637.6 246.49 637.7 243.99 637.8 240.72 637.9 238.16 638 233.04 638.1 228.38 638.2 234.91 638.3 225.34 638.4 226.36 638.5 215.28 638.6 220.86 638.7 212.61 638.8 230.41 638.9 205.33 639 202.57 639.1 213.27 639.2 212.36 639.3 184.07 639.4 200.29 639.5 203.08 639.6 181.35 639.7 196.27 639.8 181.68 639.9 173.78 640 177.47 640.1 173.24 640.2 159.52 640.3 199.14 640.4 164.1 640.5 157.32 640.6 174.97 640.7 159.91 640.8 176.36 640.9 151.17 641 157.11 641.1 150.49 641.2 148.76 641.3 139.94 641.4 138.63 641.5 165.74 641.6 122.65 641.7 124.76 641.8 128.1 641.9 144 642 140.88 642.1 150.22 642.2 109.52 642.3 137.91 642.4 129.92 642.5 127.74 642.6 135.72 642.7 96.66 642.8 137.4 642.9 134.88 643 105.67 643.1 130.11 643.2 160.57 643.3 124.28 643.4 142.5 643.5 126.93 643.6 115.64 643.7 113.33 643.8 123.08 643.9 155.43 644 146.04 644.1 116.5 644.2 149.36 644.3 127.32 644.4 116.11 644.5 137.92 644.6 111.31 644.7 98.03 644.8 154.68 644.9 92.32 645 139.46 645.1 97.77 645.2 127.67 645.3 124.08 645.4 118.98 645.5 84.01 645.6 126.45 645.7 128.27 645.8 111.43 645.9 128.39 646 149.77 646.1 116.3 646.2 135.88 646.3 108.72 646.4 138.99 646.5 144.31 646.6 180.1 646.7 150.02 646.8 141.28 646.9 160.16 647 114.93 647.1 154.29 647.2 124.26 647.3 123.29 647.4 155.54 647.5 139.89 647.6 160.31 647.7 109.79 647.8 141.63 647.9 127.51 648 132.53 648.1 103.55 648.2 154.87 648.3 142.23 648.4 121.44 648.5 115.55 648.6 124.38 648.7 164.3 648.8 138.6 648.9 134.95 649 149.53 649.1 141.64 649.2 145.75 649.3 154.73 649.4 148.11 649.5 157.59 649.6 123.47 649.7 144.7 649.8 138.2 649.9 146.14 650 144.12 650.1 134.62 650.2 139.45 650.3 160.74 650.4 136.5 650.5 125.4 650.6 155.56 650.7 161.92 650.8 141.83 650.9 148.51 651 132.91 651.1 143.48 651.2 165.09 651.3 160.29 651.4 149.77 651.5 143.02 651.6 120.99 651.7 153.06 651.8 155.6 651.9 165.58 652 181.57 652.1 154.81 652.2 164.55 652.3 130.6 652.4 169.02 652.5 163.65 652.6 172.01 652.7 160.85 652.8 157.36 652.9 174.5 653 139.28 653.1 161.09 653.2 168.55 653.3 137.81 653.4 131.91 653.5 158.36 653.6 153.42 653.7 161.64 653.8 162.43 653.9 139.2 654 157.72 654.1 171.03 654.2 146.58 654.3 147.93 654.4 134.08 654.5 166.64 654.6 185.74 654.7 130.57 654.8 166.29 654.9 168.84 655 144.59 655.1 147.91 655.2 136.83 655.3 141.38 655.4 157.45 655.5 165.79 655.6 157 655.7 169.57 655.8 158.84 655.9 135.95 656 180.17 656.1 175.88 656.2 144.18 656.3 186.17 656.4 164.41 656.5 158.91 656.6 189.24 656.7 114.85 656.8 130.09 656.9 169.44 657 153.44 657.1 141.75 657.2 183.52 657.3 166.42 657.4 136.67 657.5 147.3 657.6 173.07 657.7 189.25 657.8 124.98 657.9 163.51 658 152.93 658.1 129.82 658.2 156.96 658.3 132.61 658.4 150.99 658.5 188.02 658.6 169.33 658.7 174.1 658.8 171.17 658.9 167.16 659 177.96 659.1 141.43 659.2 155.45 659.3 176.49 659.4 149.47 659.5 154.64 659.6 183.18 659.7 189.02 659.8 152.29 659.9 148.84 660 173.21 660.1 167.98 660.2 151.88 660.3 173.96 660.4 173.4 660.5 165.44 660.6 208.57 660.7 187.75 660.8 178.58 660.9 182.33 661 209.1 661.1 183.92 661.2 153.07 661.3 171.01 661.4 166.97 661.5 156.23 661.6 170.5 661.7 170.53 661.8 165.5 661.9 158.38 662 180.85 662.1 139.99 662.2 181.1 662.3 167.52 662.4 172.17 662.5 127.68 662.6 196.19 662.7 138.98 662.8 153.74 662.9 179.25 663 158.46 663.1 161.98 663.2 131.61 663.3 161.87 663.4 172.89 663.5 180.85 663.6 164.93 663.7 173.54 663.8 177.36 663.9 159.06 664 157.98 664.1 203.13 664.2 156.71 664.3 191.38 664.4 172.34 664.5 195.66 664.6 160.99 664.7 180.23 664.8 177.34 664.9 168.34 665 177.35 665.1 159.82 665.2 171.29 665.3 166.25 665.4 185.42 665.5 171.66 665.6 150.6 665.7 167.45 665.8 172.09 665.9 159.18 666 195.67 666.1 180.79 666.2 188.07 666.3 162.21 666.4 168.31 666.5 191.24 666.6 152 666.7 181.23 666.8 176.92 666.9 167.61 667 177.29 667.1 158.74 667.2 179.8 667.3 156.88 667.4 156.12 667.5 199.1 667.6 165.71 667.7 143.36 667.8 192.81 667.9 165.15 668 135.48 668.1 176.9 668.2 192.72 668.3 183.75 668.4 205.6 668.5 176.55 668.6 188.18 668.7 162.99 668.8 181.65 668.9 203.38 669 187.37 669.1 182.17 669.2 148.75 669.3 174.06 669.4 159.96 669.5 192.5 669.6 168.96 669.7 186.34 669.8 165.25 669.9 210.45 670 162.98 670.1 183.5 670.2 221.09 670.3 184.93 670.4 168.19 670.5 191.35 670.6 197.29 670.7 195.53 670.8 151.8 670.9 185.65 671 149.68 671.1 211.75 671.2 183.78 671.3 175.72 671.4 193.24 671.5 190.51 671.6 165.02 671.7 208.11 671.8 179.69 671.9 156.7 672 204.98 672.1 207.11 672.2 202.97 672.3 192.34 672.4 170.59 672.5 198.46 672.6 212.53 672.7 196.82 672.8 208.81 672.9 173.02 673 200.23 673.1 199.09 673.2 162.67 673.3 160.77 673.4 174.53 673.5 186.69 673.6 192.38 673.7 182.33 673.8 184.86 673.9 184.27 674 187.39 674.1 194.9 674.2 193.7 674.3 185.62 674.4 190.41 674.5 179.98 674.6 198.61 674.7 179.45 674.8 211.31 674.9 186.81 675 191.33 675.1 176.25 675.2 182.55 675.3 190.22 675.4 188.24 675.5 179.02 675.6 171.29 675.7 189.06 675.8 190.89 675.9 196.83 676 207.16 676.1 184.6 676.2 160.3 676.3 187.41 676.4 162.87 676.5 171.19 676.6 204.92 676.7 198.37 676.8 181.04 676.9 181.35 677 189.4 677.1 165.59 677.2 197.93 677.3 186.19 677.4 217.76 677.5 176.36 677.6 206.06 677.7 182.14 677.8 206.61 677.9 178.26 678 202.84 678.1 186.3 678.2 181.02 678.3 190.77 678.4 199.82 678.5 198.96 678.6 215.72 678.7 205.18 678.8 156.76 678.9 188.28 679 166.07 679.1 188.87 679.2 203.18 679.3 175.87 679.4 178.25 679.5 196.95 679.6 191.09 679.7 217.35 679.8 199.94 679.9 203.02 680 220.08 680.1 189.01 680.2 196.11 680.3 182.58 680.4 200.04 680.5 210.92 680.6 215.67 680.7 196.48 680.8 187.38 680.9 186.81 681 178.38 681.1 199.33 681.2 216.42 681.3 165.65 681.4 168.52 681.5 217.44 681.6 176.64 681.7 203.2 681.8 181.8 681.9 209.64 682 209.81 682.1 201.68 682.2 210.71 682.3 200.42 682.4 207.5 682.5 224.61 682.6 215 682.7 191.61 682.8 189.86 682.9 197.59 683 197.9 683.1 202.08 683.2 193.26 683.3 210.15 683.4 202.15 683.5 206.62 683.6 202.09 683.7 210.3 683.8 186.55 683.9 223.36 684 207.26 684.1 208.78 684.2 211.07 684.3 217.41 684.4 213.04 684.5 206.67 684.6 201.38 684.7 182.48 684.8 206.88 684.9 200.21 685 200.37 685.1 235.9 685.2 180.49 685.3 205.64 685.4 220.97 685.5 217.87 685.6 221.73 685.7 188.78 685.8 192.96 685.9 214.08 686 202.07 686.1 229.03 686.2 209.39 686.3 209.12 686.4 212.58 686.5 203.15 686.6 208.58 686.7 197.99 686.8 206.79 686.9 200.87 687 211.11 687.1 188.38 687.2 187.46 687.3 214.4 687.4 211.36 687.5 195.08 687.6 205.42 687.7 194.15 687.8 237.27 687.9 187.23 688 233.14 688.1 197.8 688.2 215.41 688.3 205.96 688.4 204.44 688.5 223.21 688.6 221.69 688.7 206.17 688.8 197.49 688.9 240.19 689 230.85 689.1 212.93 689.2 206.79 689.3 215.44 689.4 212.56 689.5 228.85 689.6 197.67 689.7 212.14 689.8 200.56 689.9 231.24 690 238.71 690.1 211.13 690.2 220.53 690.3 233.35 690.4 208.59 690.5 199.51 690.6 228.46 690.7 220.84 690.8 210.61 690.9 235.04 691 217.39 691.1 188.28 691.2 219.32 691.3 213.6 691.4 241.86 691.5 214.55 691.6 211.97 691.7 221.43 691.8 218.82 691.9 195.14 692 217.34 692.1 211.06 692.2 236.16 692.3 250.62 692.4 200.23 692.5 202.58 692.6 204.53 692.7 207.36 692.8 207.05 692.9 217.88 693 232.83 693.1 198.85 693.2 195.64 693.3 191.5 693.4 233.67 693.5 236.98 693.6 196.44 693.7 195.25 693.8 220.44 693.9 234.26 694 233.31 694.1 221.83 694.2 228.91 694.3 224.05 694.4 211.75 694.5 246.69 694.6 219.9 694.7 204.41 694.8 213.65 694.9 198.71 695 220.81 695.1 236.14 695.2 203.15 695.3 236.88 695.4 250.57 695.5 226.7 695.6 205.36 695.7 209.8 695.8 217.22 695.9 204.17 696 204.79 696.1 218.77 696.2 220.04 696.3 231.14 696.4 206.2 696.5 249.04 696.6 237.93 696.7 235.72 696.8 214.52 696.9 247.77 697 219.12 697.1 249.11 697.2 238.98 697.3 211.99 697.4 218.26 697.5 250.44 697.6 238.63 697.7 222.88 697.8 227.98 697.9 228.07 698 214.91 698.1 222.93 698.2 216.8 698.3 220.13 698.4 232.54 698.5 213.25 698.6 236.4 698.7 228.15 698.8 237.21 698.9 239.09 699 244.1 699.1 235.85 699.2 237.08 699.3 225.19 699.4 235.52 699.5 215.76 699.6 224.79 699.7 238.42 699.8 227.75 699.9 234.64 700 214.53 700.1 247.29 700.2 221.18 700.3 234.33 700.4 228.79 700.5 241.67 700.6 224.13 700.7 215.97 700.8 204.08 700.9 225.4 701 213.67 701.1 236.74 701.2 248.85 701.3 200.31 701.4 212.81 701.5 234.03 701.6 246.32 701.7 234.13 701.8 234.45 701.9 236.91 702 237.89 702.1 251.96 702.2 238.51 702.3 214.36 702.4 224.49 702.5 233.47 702.6 220.25 702.7 227.49 702.8 224.14 702.9 221.95 703 240.1 703.1 226.16 703.2 217.17 703.3 222.13 703.4 231.92 703.5 256.3 703.6 234.91 703.7 250.7 703.8 238.08 703.9 204.34 704 236.74 704.1 221.11 704.2 214.81 704.3 218.43 704.4 254.93 704.5 212.26 704.6 224.51 704.7 247.09 704.8 240.92 704.9 211.02 705 231.27 705.1 226.26 705.2 230.37 705.3 242.33 705.4 225.76 705.5 229.05 705.6 251.36 705.7 210.23 705.8 228.65 705.9 239.2 706 217.97 706.1 225.7 706.2 217.33 706.3 235.59 706.4 226.06 706.5 243.52 706.6 246.47 706.7 234.55 706.8 229.4 706.9 237.32 707 234.91 707.1 219.42 707.2 247.43 707.3 237.19 707.4 244.11 707.5 218.06 707.6 245.3 707.7 256.3 707.8 242.27 707.9 217.41 708 235.42 708.1 234.35 708.2 237.75 708.3 232.41 708.4 241.22 708.5 229.8 708.6 238.18 708.7 227.31 708.8 236.77 708.9 247.5 709 229.92 709.1 243.72 709.2 225.4 709.3 231.58 709.4 233.26 709.5 250.8 709.6 227.2 709.7 250.58 709.8 219.19 709.9 234.58 710 247.17 710.1 244.69 710.2 224.9 710.3 222.51 710.4 247 710.5 222.27 710.6 243.68 710.7 231.02 710.8 236.99 710.9 256.3 711 255.1 711.1 246.99 711.2 221.64 711.3 241.16 711.4 238.19 711.5 236.51 711.6 252.96 711.7 218.26 711.8 241.5 711.9 239.39 712 229.54 712.1 256.3 712.2 223.89 712.3 238.58 712.4 239.24 712.5 213.81 712.6 222.46 712.7 227.72 712.8 247.45 712.9 249.27 713 245.42 713.1 241.55 713.2 214.55 713.3 241.42 713.4 233.43 713.5 252.12 713.6 254.1 713.7 256.3 713.8 247.21 713.9 248.44 714 228.27 714.1 240.51 714.2 226.24 714.3 249.57 714.4 226.88 714.5 237.62 714.6 231.13 714.7 235.02 714.8 245.12 714.9 234.17 715 242.7 715.1 229.59 715.2 255.44 715.3 233.58 715.4 251.39 715.5 256.3 715.6 214.6 715.7 230.11 715.8 238.56 715.9 253.27 716 235.71 716.1 244.94 716.2 233.22 716.3 246.99 716.4 228.23 716.5 249.98 716.6 213.82 716.7 221.29 716.8 256.3 716.9 243.16 717 231.98 717.1 256.3 717.2 252.52 717.3 253.38 717.4 237.19 717.5 248.16 717.6 247.01 717.7 224.49 717.8 248.01 717.9 239.96 718 255.3 718.1 255.54 718.2 235.38 718.3 235.85 718.4 244.13 718.5 248.97 718.6 238.02 718.7 241.14 718.8 248.65 718.9 246.77 719 254.41 719.1 244.98 719.2 233.5 719.3 224.6 719.4 250.98 719.5 239.34 719.6 239.26 719.7 239.91 719.8 226.93 719.9 238.99 720 216.98 720.1 238.99 720.2 234.07 720.3 256.3 720.4 247.74 720.5 241.13 720.6 244.97 720.7 250.72 720.8 235.85 720.9 241.2 721 240 721.1 256.3 721.2 244.39 721.3 224.11 721.4 251.71 721.5 256.3 721.6 234.38 721.7 256.3 721.8 243.37 721.9 253.95 722 238.52 722.1 241.49 722.2 232.06 722.3 233.85 722.4 223.23 722.5 255.61 722.6 233.15 722.7 248.11 722.8 247.76 722.9 238.24 723 245.11 723.1 243.77 723.2 239.92 723.3 245.28 723.4 245.35 723.5 235.01 723.6 232.41 723.7 236.81 723.8 246.24 723.9 256.3 724 256.3 724.1 248.25 724.2 254.38 724.3 246.52 724.4 255.98 724.5 246.67 724.6 249.25 724.7 242.84 724.8 245.55 724.9 256.3 725 234.32 725.1 245.8 725.2 240.22 725.3 254.96 725.4 256.3 725.5 243.04 725.6 222.18 725.7 251.88 725.8 251.94 725.9 230.39 726 243.99 726.1 245.68 726.2 224.74 726.3 252.72 726.4 250.57 726.5 248.75 726.6 236.72 726.7 240.02 726.8 240.81 726.9 251.17 727 237.7 727.1 256.3 727.2 250.38 727.3 226.9 727.4 256.3 727.5 248.51 727.6 242.07 727.7 248.1 727.8 230.52 727.9 249 728 224.91 728.1 238.06 728.2 256.3 728.3 256.3 728.4 244.44 728.5 238.84 728.6 256.07 728.7 247.24 728.8 249.65 728.9 253.44 729 238.19 729.1 255.02 729.2 229.02 729.3 256.3 729.4 234.04 729.5 242.52 729.6 242.21 729.7 254.7 729.8 254.9 729.9 251.51 730 253.18 730.1 252.53 730.2 247.74 730.3 231.49 730.4 228.01 730.5 228.06 730.6 247.97 730.7 246.39 730.8 247.17 730.9 250.39 731 246.33 731.1 239.59 731.2 235.16 731.3 231.68 731.4 256.3 731.5 256.3 731.6 236.49 731.7 246.02 731.8 252.32 731.9 256.3 732 243.14 732.1 249.99 732.2 256.3 732.3 233.17 732.4 242.01 732.5 248.12 732.6 242.13 732.7 256.3 732.8 256.1 732.9 250.2 733 240.05 733.1 256.1 733.2 254.05 733.3 243.98 733.4 244.69 733.5 235.68 733.6 247.83 733.7 256.1 733.8 256.3 733.9 253.6 734 255.74 734.1 243.38 734.2 244.42 734.3 256.3 734.4 252.48 734.5 241.61 734.6 252.93 734.7 255.8 734.8 254.73 734.9 249.5 735 244.07 735.1 252.05 735.2 256.3 735.3 249.87 735.4 242.78 735.5 251.55 735.6 237.89 735.7 250.6 735.8 246.01 735.9 256.3 736 249.51 736.1 256.3 736.2 256.3 736.3 246.75 736.4 241.41 736.5 252.62 736.6 247.89 736.7 249.88 736.8 243.46 736.9 253.47 737 249.27 737.1 230.04 737.2 246.64 737.3 251.56 737.4 256.3 737.5 243.72 737.6 241.8 737.7 256.3 737.8 243.47 737.9 249.62 738 252.78 738.1 255.06 738.2 248.8 738.3 239.2 738.4 256.3 738.5 245.03 738.6 244.29 738.7 256.3 738.8 256.28 738.9 239.71 739 244.66 739.1 246.68 739.2 242.39 739.3 232.43 739.4 255.64 739.5 255.42 739.6 250.89 739.7 245.4 739.8 250.63 739.9 254.26 740 239.97 740.1 246.02 740.2 244.09 740.3 254.77 740.4 251.08 740.5 237.84 740.6 243.64 740.7 256.3 740.8 240.65 740.9 250.16 741 243.56 741.1 256.3 741.2 248.35 741.3 245.21 741.4 238.98 741.5 246.84 741.6 255.91 741.7 254.59 741.8 237.77 741.9 256.3 742 246.86 742.1 240.07 742.2 250.02 742.3 243.72 742.4 244.09 742.5 243.64 742.6 248.2 742.7 244.76 742.8 234.62 742.9 253.35 743 244.6 743.1 256.3 743.2 253.47 743.3 254.15 743.4 250.52 743.5 256.3 743.6 246.27 743.7 240.71 743.8 251.9 743.9 228.31 744 245.95 744.1 250.82 744.2 245.57 744.3 256.3 744.4 254.88 744.5 249.99 744.6 245.73 744.7 256.3 744.8 243.43 744.9 245.62 745 255.28 745.1 254.04 745.2 256.3 745.3 247.35 745.4 233.62 745.5 254.62 745.6 256.3 745.7 247.86 745.8 256.3 745.9 256.3 746 243.82 746.1 245.36 746.2 239.08 746.3 253.77 746.4 255.21 746.5 254.3 746.6 239.37 746.7 243.22 746.8 237.83 746.9 236.4 747 238.59 747.1 236.73 747.2 248.04 747.3 252.94 747.4 254.57 747.5 249.41 747.6 244.2 747.7 249.53 747.8 254.18 747.9 247.28 748 250.09 748.1 247.25 748.2 245.54 748.3 250 748.4 240.9 748.5 256.3 748.6 237.43 748.7 253.45 748.8 239.09 748.9 256.3 749 256.3 749.1 243.52 749.2 246.38 749.3 241.1 749.4 249.49 749.5 253.18 749.6 256.3 749.7 239.38 749.8 256.3 749.9 245.53 750 252.21 750.1 256.3 750.2 254.31 750.3 253.4 750.4 248.64 750.5 250.11 750.6 251.37 750.7 256.3 750.8 239 750.9 246.5 751 240.76 751.1 242.95 751.2 244.25 751.3 256.3 751.4 256.3 751.5 256.3 751.6 241.44 751.7 251 751.8 241.88 751.9 253.84 752 256.3 752.1 254.94 752.2 256.3 752.3 249.46 752.4 235.84 752.5 235.78 752.6 249.89 752.7 254.93 752.8 256.3 752.9 248.1 753 251.27 753.1 252.63 753.2 256.3 753.3 250.26 753.4 242.72 753.5 256.3 753.6 253.87 753.7 253.67 753.8 241.55 753.9 250.85 754 238.35 754.1 236.29 754.2 249.24 754.3 247.82 754.4 255.14 754.5 256.3 754.6 250.8 754.7 256.3 754.8 246.84 754.9 256.3 755 242 755.1 252.07 755.2 248.91 755.3 249.7 755.4 255.45 755.5 237.75 755.6 252.1 755.7 245.49 755.8 252.15 755.9 254.13 756 248.72 756.1 248.73 756.2 243.23 756.3 255.3 756.4 246.69 756.5 254.59 756.6 241.45 756.7 256.3 756.8 244.36 756.9 256.3 757 248.43 757.1 255.4 757.2 250.61 757.3 256.3 757.4 251.69 757.5 256.3 757.6 256.3 757.7 256.3 757.8 256.3 757.9 246.95 758 256.3 758.1 252.3 758.2 241.67 758.3 255.13 758.4 250.47 758.5 256.3 758.6 248.56 758.7 252.27 758.8 253.55 758.9 239.03 759 255.45 759.1 245.25" fill="none" stroke="#008000" stroke-width="1.15" stroke-linejoin="round"/>
<path d="M645.3 125V80.5M586.6 150V119.6M592.9 150V119M631.2 140V108.5M660 145V113.8M689.4 200V175.8M462.5 220V200.5" stroke="#008000" stroke-width="1.0"/>
<path d="M446.6 256.3 455.8 256.3 456.3 246 456.8 256.3 477.3 256.3 477.3 256.3 478.3 215 479.2 175 480 140 480.5 130.8 481.3 160 482 190 483 225 484 238 484.5 236.77 484.62 235.1 484.74 246.25 484.86 256.3 484.98 245.04 485.1 245.1 485.22 241.54 485.34 248.25 485.46 254.12 485.58 247.28 485.7 252.4 485.82 234.87 485.94 251 486.06 250.66 486.18 246.76 486.3 254.47 486.42 249.37 486.54 247.39 486.66 249.67 486.78 248.17 486.9 238.67 487.02 243.85 487.14 255.12 487.26 249.37 487.38 241.96 487.5 250.8 487.62 246.2 487.74 246.92 487.86 243.45 487.98 247.9 488.1 247.68 488.22 252.17 488.34 244.62 488.46 252.61 488.58 236.19 488.7 247.04 488.82 248.31 488.94 242.13 489.06 247.5 489.18 246.46 489.3 247.34 489.42 251.45 489.54 252.65 489.66 251.31 489.78 240.29 489.9 250.91 490.02 249.59 490.14 249.85 490.26 242.96 490.38 235.26 490.5 252.7 490.62 243.86 490.74 246.43 490.86 248.97 490.98 244.12 491.1 254.77 491.22 242.16 491.34 245.83 491.46 253.13 491.58 237.59 491.7 242.05 491.82 240.18 491.94 255.87 492.06 248.78 492.18 250.28 492.3 243.4 492.42 239.03 492.54 256.3 492.66 247.03 492.78 247.91 492.9 241.16 493.02 247.39 493.14 254.77 493.26 248.32 493.38 253.36 493.5 251.81 493.62 246.9 493.74 250.03 493.86 245.48 493.98 256.24 494.1 235.25 494.22 239.6 494.34 242.85 494.46 254.9 494.58 256.3 494.7 252.32 494.82 248.54 494.94 235.25 495.06 239.33 495.18 250.3 495.3 239.92 495.42 239.82 495.54 247.06 495.66 239.86 495.78 245.17 495.9 251.07 496.02 254.19 496.14 247.89 496.26 241.18 496.38 255.27 496.5 256.3 496.62 243.86 496.74 256.3 496.86 236.24 496.98 249.78 497.1 242.76 497.22 236.02 497.34 255.84 497.46 253.44 497.58 235.25 497.7 248.85 497.82 247.92 497.94 245.79 498.06 240.82 498.18 239.21 498.3 246.49 498.42 249.16 498.54 247.37 498.66 245.33 498.78 239.31 498.9 246.34 499.02 236.25 499.14 252.29 499.26 243.96 499.38 236.64 499.5 239.44 499.62 245.16 499.74 252.44 499.86 251.41 499.98 248.09 500.1 245.31 500.22 248.67 500.34 255.87 500.46 251.6 500.58 244.15 500.7 242.28 500.82 255.54 500.94 249.42 501.06 256.3 501.18 250.62 501.3 235.63 501.42 246.95 501.54 249.37 501.66 250.8 501.78 254.44 501.9 256.3 502.02 247.65 502.14 249.02 502.26 238.86 502.38 256.3 502.5 244.94 502.62 239.73 502.74 256.3 502.86 243.72 502.98 256.3 503.1 244.54 503.22 239.1 503.34 247.59 503.46 245.94 503.58 251.55 503.7 245.97 503.82 241.2 503.94 248.68 504.06 248.45 504.18 245.47 504.3 243.05 504.42 256.3 504.54 247.38 504.66 251.57 504.78 244.97 504.9 241.97 505.02 246.04 505.14 240.6 505.26 253.31 505.38 250.09 505.5 253.32 505.62 247.52 505.74 247.33 505.86 248.97 505.98 254.56 506.1 248.33 506.22 250.32 506.34 244.63 506.46 249.43 506.58 241.63 506.7 246.72 506.82 256.3 506.94 248.95 507.06 255.77 507.18 242.81 507.3 240.32 507.42 248.22 507.54 245.7 507.66 255.86 507.78 256.3 507.9 251.1 508.02 249.51 508.14 256.22 508.26 247.74 508.38 246.61 508.5 244.91 508.62 240.23 508.74 244.14 508.86 250.28 508.98 247.88 509.1 245.37 509.22 253.83 509.34 241.77 509.46 243.99 509.58 249.73 509.7 251.82 509.82 238.75 509.94 244.51 510.06 244.07 510.18 239.89 510.3 243.98 510.42 247.8 510.54 245.44 510.66 253.31 510.78 245.48 510.9 256.3 511.02 246.97 511.14 246.38 511.26 256.3 511.38 240.06 511.5 254.51 511.62 244.28 511.74 251.64 511.86 247.78 511.98 252.27 512.1 240.25 512.22 244.62 512.34 241.15 512.46 245.85 512.58 246.28 512.7 248.76 512.82 250.52 512.94 246.81 513.06 248.82 513.18 250.22 513.3 255.58 513.42 250.95 513.54 247.05 513.66 251.7 513.78 248.24 513.9 250.36 514.02 254.13 514.14 253.61 514.26 252.94 514.38 251.09 514.5 251 514.62 245.36 514.74 254.42 514.86 256.3 514.98 247.29 515.1 251.9 515.6 256.3 515.6 256.3 516.8 220 518 190 519.5 150 520.6 128 521.4 118.5 522.6 145 523.9 170 526 205 527.8 226 528 239.29 528.12 214.39 528.24 220.15 528.36 230.54 528.48 226.11 528.6 236.03 528.72 225.72 528.84 244.8 528.96 246 529.08 242.94 529.2 217.54 529.32 217.67 529.44 244.51 529.56 222.32 529.68 238.79 529.8 223.15 529.92 240.65 530.04 224.39 530.16 237.89 530.28 240.07 530.4 236.6 530.52 234.19 530.64 243.69 530.76 253.87 530.88 213.89 531 241.08 531.12 256.3 531.24 256.3 531.36 256.3 531.48 243.76 531.6 217.4 531.72 256.3 531.84 239.7 531.96 256.3 532.08 220.29 532.2 230.19 532.32 230.67 532.44 216.51 532.56 212.32 532.68 220.64 532.8 242.76 532.92 253.07 533.04 249.16 533.16 256.3 533.28 209.87 533.4 237.49 533.52 233.17 533.64 232.33 533.76 208.7 533.88 242.79 534 219.23 534.12 231.2 534.24 237.41 534.36 256.3 534.48 223.25 534.6 245.47 534.72 241.73 534.84 232.75 534.96 234.55 535.08 221.14 535.2 244.7 535.32 233.88 535.44 232.48 535.56 235.82 535.68 227.48 535.8 239.56 535.92 220.97 536.04 245.48 536.16 254.78 536.28 237.11 536.4 221.8 536.52 243.21 536.64 244.66 536.76 241.2 536.88 234.92 537 239.21 537.12 233.29 537.24 256.3 537.36 218.96 537.48 230.25 537.6 247.83 537.72 220.92 537.84 232.14 537.96 220.01 538.08 251.72 538.2 217.94 538.32 237.2 538.44 256.3 538.56 228.89 538.68 241.42 538.8 249.85 538.92 240.46 539.04 256.3 539.16 231.14 539.28 240.56 539.4 241.22 539.52 221.59 539.64 237.73 539.76 245.86 539.88 249.24 540 238.95 540.12 225.97 540.24 245.02 540.36 250.3 540.48 227.78 540.6 237.73 540.72 238.74 540.84 216.42 540.96 252.37 541.08 236.29 541.2 256.3 541.32 242.03 541.44 232.02 541.56 226 541.68 253.06 541.8 229.38 541.92 230.02 542.04 240.23 542.16 217.29 542.28 238.91 542.4 248.76 542.52 234.26 542.64 256.3 542.76 221.8 542.88 228.18 543 243.53 543.12 232.41 543.24 233.31 543.36 218.08 543.48 246 543.6 253.38 543.72 256.3 543.84 242.58 543.96 256.3 544.08 241.33 544.2 235.06 544.32 244.28 544.44 249.71 544.56 226.81 544.68 241.77 544.8 237.18 544.92 229.55 545.04 253.61 545.16 249.57 545.28 219.48 545.4 241.59 545.52 250.9 545.64 242.71 545.76 246.07 545.88 252.9 546 244.45 546.12 240.51 546.24 240.5 546.36 234.94 546.48 256.3 546.6 255.68 546.72 232.66 546.84 245.11 546.96 228.57 547.08 237.77 547.2 254.84 547.32 235.62 547.44 250.93 547.56 238.49 547.68 229.11 547.8 222.38 547.92 241.89 548.04 234.56 548.16 238.46 548.28 233.85 548.4 256.3 548.52 245.21 548.64 238.85 548.76 237.24 548.88 248.76 549 234.09 549.12 231.6 549.24 241.25 549.36 244.05 549.48 245.29 549.6 240.82 549.72 231.44 549.84 228.66 549.96 246.5 550.08 250.66 550.2 249.46 550.32 233.71 550.44 240.55 550.56 239.95 550.68 238.42 550.8 239.42 550.92 243.82 551.04 251.8 551.16 248.19 551.28 241.9 551.4 239.66 551.52 246.2 551.64 246.63 551.76 231.71 551.88 247.15 552 241.47 552.12 246 552.24 250.5 552.36 255.92 552.48 247.93 552.6 250.27 552.72 236.84 552.84 252.96 552.96 247.1 553.08 238.67 553.2 244.82 553.32 240.1 553.44 237.52 553.56 256.3 553.68 247.36 553.8 251.63 553.92 233.97 554.04 245.26 554.16 240.66 554.28 231.68 554.4 247.21 554.52 244.05 554.64 241.64 554.76 246.7 554.88 235.59 555 238.89 555.12 237.55 555.6 256.3 555.6 256.3 556.6 220 557.6 190 558.7 155 559.7 130 560.4 121.4 561.5 140 562.5 160.7 565 193.6 567.3 219 567.5 232.86 567.62 238.5 567.74 238.65 567.86 238.76 567.98 256.3 568.1 228.11 568.22 221.49 568.34 233.47 568.46 240.54 568.58 232.72 568.7 229.92 568.82 228.38 568.94 206.72 569.06 245.73 569.18 227.72 569.3 222.87 569.42 231.87 569.54 236.46 569.66 248.14 569.78 241.73 569.9 222.4 570.02 211.24 570.14 242.59 570.26 225.75 570.38 224.99 570.5 217.64 570.62 229.02 570.74 226.01 570.86 219.19 570.98 250.08 571.1 231.84 571.22 256.3 571.34 256.3 571.46 244.88 571.58 255.7 571.7 224.71 571.82 217.28 571.94 236.95 572.06 234.39 572.18 235.8 572.3 236.2 572.42 230.12 572.54 226.79 572.66 239.18 572.78 244.13 572.9 240.03 573.02 219.72 573.14 238.44 573.26 209.63 573.38 235.64 573.5 210.79 573.62 250.28 573.74 242.55 573.86 224.38 573.98 224.17 574.1 234.15 574.22 200.94 574.34 230.53 574.46 227.11 574.58 240.47 574.7 205.69 574.82 218.12 574.94 225.02 575.06 256.3 575.18 225.72 575.3 238.71 575.42 225.17 575.54 216.93 575.66 243.09 575.78 227.82 575.9 217.32 576.02 228.6 576.14 236.36 576.26 247.92 576.38 241.71 576.5 251.25 576.62 215.28 576.74 229.32 576.86 250.36 576.98 231 577.1 251.54 577.22 256.3 577.34 211.43 577.46 211.96 577.58 254.48 577.7 242.28 577.82 227.36 577.94 236.84 578.06 244.47 578.18 239 578.3 234.66 578.42 239.71 578.54 227.56 578.66 234.68 578.78 243.15 578.9 230.73 579.02 256.3 579.14 208.44 579.26 256.3 579.38 232.67 579.5 226.11 579.62 225.02 579.74 227.5 579.86 211.99 579.98 249.12 580.1 232.82 580.22 229.55 580.34 239.5 580.46 241.04 580.58 212.32 580.7 242.94 580.82 239.41 580.94 236.38 581.06 235.48 581.18 229.88 581.3 235.5 581.42 226.85 581.54 230.49 581.66 225.41 581.78 212.25 581.9 245.25 582.02 208.34 582.14 239.47 582.26 223.1 582.38 230.61 582.5 237.37 582.62 256.3 582.74 209.68 582.86 244.21 582.98 244.69 583.1 218 583.22 232.32 583.34 206.16 583.46 209.44 583.58 223.48 583.7 230.07 583.82 222.9 583.94 252.43 584.06 231.42 584.18 231.83 584.3 240.59 584.42 230.48 584.54 254.48 584.66 221.6 584.78 216.36 584.9 252.2 585.02 232.34 585.14 213.15 585.26 228.73 585.38 248.64 585.5 248.07 585.62 223.06 585.74 209.87 585.86 249.46 585.98 234.34 586.1 245.37 586.22 238.88 586.34 231.12 586.46 235.88 586.58 244.43 586.7 209.27 586.82 237.75 586.94 238.16 587.06 221.77 587.18 235.91 587.3 238.75 587.42 224.41 587.54 249.33 587.66 227.29 587.78 224 587.9 228.7 588.02 239.1 588.14 237.14 588.26 256.3 588.38 238.84 588.5 233.99 588.62 227.33 588.74 236 588.86 242.3 588.98 247.57 589.1 238.55 589.22 236.62 589.34 224.6 589.46 238.29 589.58 244.09 589.7 239.82 589.82 244.07 589.94 241.44 590.06 256.3 590.18 256.26 590.3 252 590.42 234.43 590.54 240.31 590.66 238.08 590.78 227.68 590.9 250.59 591.02 228.3 591.14 236.2 591.26 247.41 591.38 225.48 591.5 254.6 591.62 251.67 591.74 242.74 591.86 236.92 591.98 242.8 592.1 256.3 592.22 244.02 592.34 242.11 592.46 222.51 592.58 228.91 592.7 240.57 592.82 251.7 592.94 238.86 593.06 252.45 593.18 240.39 593.3 239.09 593.42 245.9 593.54 240.4 593.66 245.48 593.78 247.61 593.9 230.06 594.02 238.18 594.14 245.56 594.26 249.39 594.7 256.3 594.7 256.3 595.6 220 596.4 190 597.3 160 598 142 598.5 134 599.5 145 600.5 160.7 603 193.6 606.3 222 606.5 239.29 606.62 235.6 606.74 232.91 606.86 227.01 606.98 236.69 607.1 251.74 607.22 221.86 607.34 230.15 607.46 233.3 607.58 228.56 607.7 255.26 607.82 244.75 607.94 246.07 608.06 230.1 608.18 252.38 608.3 244.34 608.42 227.15 608.54 235.32 608.66 244.98 608.78 223.9 608.9 253.8 609.02 237.25 609.14 243.59 609.26 236.78 609.38 244.08 609.5 249.27 609.62 239.61 609.74 253.71 609.86 236.74 609.98 244.57 610.1 233.21 610.22 245.78 610.34 247.85 610.46 238.09 610.58 230.51 610.7 256.3 610.82 240.72 610.94 236.15 611.06 254.71 611.18 249.82 611.3 236.09 611.42 249.36 611.54 247.68 611.66 226.53 611.78 250.44 611.9 249.73 612.02 256.3 612.14 251.82 612.26 253.04 612.38 226.82 612.5 231.3 612.62 253.36 612.74 224.73 612.86 235.36 612.98 243.8 613.1 235.09 613.22 238.89 613.34 249 613.46 256.3 613.58 250.29 613.7 242.38 613.82 245.48 613.94 248.84 614.06 233.91 614.18 251.69 614.3 234.7 614.42 246.65 614.54 241.55 614.66 252.21 614.78 242.61 614.9 249.31 615.02 256.3 615.14 242.76 615.26 243.05 615.38 235.5 615.5 240.2 615.62 251.34 615.74 247.91 615.86 256.3 615.98 252.26 616.1 231.61 616.22 229.78 616.34 236.22 616.46 240.16 616.58 237.75 616.7 238.62 616.82 256.3 616.94 250.2 617.06 232.74 617.18 232.81 617.3 240.79 617.42 245.46 617.54 246.11 617.66 247.46 617.78 250.7 617.9 256.3 618.02 241.65 618.14 246.72 618.26 244.73 618.38 228.52 618.5 237.98 618.62 248.86 618.74 238.11 618.86 255.6 618.98 234.19 619.1 240.81 619.22 244.65 619.34 238.27 619.46 230.9 619.58 246.93 619.7 251.31 619.82 226.01 619.94 242.97 620.06 230.69 620.18 248.74 620.3 240 620.42 248.47 620.54 237.91 620.66 245.46 620.78 248.73 620.9 230.37 621.02 240.41 621.14 256.3 621.26 245.18 621.38 250.81 621.5 253.3 621.62 248.08 621.74 247.22 621.86 243.03 621.98 249.83 622.1 256.3 622.22 247.73 622.34 236.15 622.46 254.54 622.58 238.32 622.7 239.65 622.82 247.07 622.94 240.9 623.06 249.54 623.18 246.7 623.3 251.77 623.42 239.69 623.54 232.35 623.66 249.01 623.78 233.8 623.9 256.3 624.02 250.71 624.14 251.74 624.26 229.64 624.38 248.35 624.5 237.29 624.62 256.3 624.74 242.69 624.86 239.07 624.98 243.94 625.1 256.3 625.22 242.32 625.34 237.34 625.46 233.37 625.58 240.75 625.7 256.3 625.82 245.64 625.94 237.01 626.06 250.46 626.18 239.79 626.3 247.9 626.42 243.56 626.54 238.53 626.66 249.76 626.78 229 626.9 243.33 627.02 241.96 627.14 250.12 627.26 244.17 627.38 246.67 627.5 255.5 627.62 256.04 627.74 242.75 627.86 245.54 627.98 256.3 628.1 256.3 628.22 247.27 628.34 245.6 628.46 240.84 628.58 253.99 628.7 241.09 628.82 247.48 628.94 248.92 629.06 246.41 629.18 238.66 629.3 241.69 629.42 239.49 629.54 250.33 629.66 247.62 629.78 253.6 629.9 249.51 630.02 248.5 630.14 249 630.26 241.23 630.38 243.2 630.5 241.08 630.62 245.27 630.74 239.2 630.86 245.48 630.98 240.07 631.1 243.11 631.22 241.7 631.34 246.85 631.46 254.26 631.58 255.56 631.7 234.41 631.82 244.23 631.94 243.96 632.06 247.76 632.18 249.58 632.3 234.55 632.42 253.64 632.54 247.32 632.66 247.31 632.78 253.75 632.9 254.59 633.02 251.27 633.14 249.16 633.26 249.99 633.38 242.39 633.5 254.05 634 256.3 634 256.3 634.8 220 635.6 190 636.5 155 637.3 128 637.9 113.8 639 135 640 150 641.5 175 643.5 205 645.5 222 648 238 651.3 249 651.5 248.54 651.62 238.85 651.74 244.12 651.86 256.3 651.98 256.3 652.1 244.6 652.22 247.77 652.34 256.3 652.46 240.72 652.58 255.94 652.7 251.32 652.82 256.3 652.94 249.44 653.06 256.17 653.18 256.3 653.3 242.67 653.42 250.42 653.54 256.3 653.66 246.18 653.78 244.91 653.9 256.3 654.02 255.84 654.14 251.89 654.26 254.58 654.38 251.28 654.5 246.65 654.62 256.3 654.74 234.1 654.86 256.3 654.98 256.3 655.1 235.17 655.22 233.96 655.34 252.09 655.46 254.06 655.58 256.3 655.7 242.51 655.82 250.94 655.94 256.3 656.06 248.94 656.18 240.62 656.3 246.55 656.42 234.29 656.54 242.5 656.66 248.7 656.78 252.77 656.9 247.78 657.02 242.09 657.14 245.17 657.26 243.52 657.38 250.62 657.5 246.01 657.62 242.21 657.74 253.94 657.86 256.3 657.98 237.96 658.1 247.63 658.22 256.26 658.34 250.59 658.46 254.64 658.58 256.3 658.7 254.12 658.82 256.3 658.94 250.9 659.06 253.51 659.18 243.17 659.3 253.6 659.42 249.51 659.54 255.09 659.66 255.77 659.78 256.3 659.9 244.47 660.02 251.24 660.14 256.3 660.26 250.95 660.38 256.06 660.5 256.3 660.62 250.66 660.74 242.85 660.86 254.89 660.98 256.3 661.1 256.3 661.22 238.33 661.34 256.3 661.46 243.29 661.58 254.67 661.7 246.91 661.82 253.63 661.94 256.3 662.06 256.04 662.18 236.26 662.3 253.85 662.42 248.43 662.54 255.46 662.66 253.87 662.78 250.37 662.9 249.21 663.02 236.64 663.14 253.01 663.26 254.27 663.38 256.3 663.5 256.3 663.62 256.3 663.74 247.92 663.86 256.3 663.98 242.38 664.1 246.52 664.22 255.17 664.34 256.3 664.46 252.77 664.58 252.83 664.7 244.67 664.82 256.3 664.94 255.79 665.06 253.41 665.18 255.06 665.3 256.3 665.42 256.3 665.54 256.3 665.66 256.3 665.78 254.7 665.9 245.93 666.02 238.02 666.14 240.89 666.26 250.31 666.38 239.82 666.5 253.96 666.62 256.3 666.74 238.36 666.86 256.3 666.98 256.07 667.1 255.01 667.22 243.07 667.34 256.3 667.46 247.83 667.58 256.02 667.7 256.3 667.82 251.63 667.94 252.1 668.06 256.3 668.18 256.3 668.3 256.3 668.42 246.81 668.54 250.2 668.66 251.71 668.78 250.05 668.9 256.3 669.02 250.17 669.14 256.3 669.26 256.3 669.38 256.3 669.5 251.99 669.62 252.79 669.74 246.53 669.86 256.3 669.98 254.82 670.1 250.88 670.22 256.3 670.34 251.84 670.46 256.04 670.58 256.3 670.7 246.38 670.82 256.3 670.94 247.21 671.06 256.07 671.18 256.3 671.3 256.3 671.42 256.3 671.54 256.3 671.66 251.88 671.78 256.3 671.9 246 672.02 248.49 672.14 245.17 672.26 256.3 672.38 256.3 672.5 256.3 672.62 254.6 672.74 251.81 672.86 256.3 672.98 254.13 673.1 252.76 673.22 256.3 673.34 243.13 673.46 256.3 673.58 252.15 673.7 247.46 673.82 256.3 673.94 253.68 674.06 244.4 674.18 255.32 674.3 247.81 674.42 252.09 674.54 252.46 674.66 249.74 674.78 255.05 674.9 254.93 675.02 248.46 675.14 252.35 675.26 251.07 675.38 256.3 675.5 253.72 675.62 247.25 675.74 248.97 675.86 251.99 675.98 256.3 676.1 256.3 676.22 251.53 676.34 246.37 676.46 253.65 676.58 247.04 676.7 255.46 676.82 247.66 676.94 256.3 677.06 252.96 677.18 256.3 677.3 250.57 677.42 251.04 677.54 256.3 677.66 256.3 677.78 256.21 677.9 256.3 678.02 256.3 678.14 256.3 678.26 250.16 678.38 247.23 678.5 256.22 678.62 255.46 678.74 253.03 678.86 256.3 678.98 255.42 679.1 250.08 679.22 253.01 679.34 254.52 679.46 256.3 679.58 247.21 679.7 256.3 679.82 253.59 679.94 256.3 680.06 256.3 680.18 253.75 680.3 256 680.42 251.78 680.54 253.91 680.66 256.3 680.78 256.3 680.9 249.8 681.02 256.3 681.14 247.72 681.26 254.21 681.38 256.3 681.5 251.86 681.62 255.48 681.74 254.26 681.86 256.3 681.98 251.61 682.1 249.69 682.22 256.3 682.34 246.86 682.46 256.3 682.58 253.35 682.7 256.3 682.82 256.3 682.94 245.81 683.06 248.62 683.18 249.78 683.3 256.3 683.42 253.55 683.54 252.79 683.66 254.16 683.78 253.31 683.9 256.3 684.02 255.14 684.14 256.3 684.26 255.88 684.38 253.11 684.5 256.3 684.62 255.61 684.74 256.2 684.86 254.53 684.98 251.16 685.1 253.73 685.22 253.16 685.34 256.3 685.46 255.96 685.58 251.68 685.7 256.3 685.82 256.22 685.94 256.3 686.06 249.96 686.18 256.29 686.3 256.3 686.42 252.57 686.54 250.93 686.66 253.04 686.78 251.4 686.9 254.04 687.02 255.2 687.14 256.25 687.26 256.3 687.38 256.3 687.5 253.6 687.62 255.19 687.74 254.55 687.86 252.89 687.98 255.02 688.1 256.3 688.22 256.3 688.34 256.3 688.46 256.3 688.58 254.58 688.7 256.3 688.82 256.3 688.94 256.3 689.06 252.32 689.18 255.88 689.3 252.01 689.42 255.24 689.54 256.25 689.66 253.36 689.78 253.29 689.9 254.69 690.02 256.3 690.14 256.3 690.26 256.3 690.38 255.77 690.5 254.83 690.62 251.15 690.74 251.4 690.86 253.37 690.98 252.69 691.1 254.58 691.22 249.9 691.34 251.42 691.46 250.06 691.58 254.3 691.7 254.25 691.82 252.79 691.94 254.83 692.06 254.57 692.18 256.3 692.3 253.23 692.42 255.03 692.54 253.6 692.66 255.82 692.78 256.3 692.9 254.36 693.02 253.05 693.14 256.3 693.26 256.3 693.38 256.02 693.5 255.92 693.62 256.3 693.74 252.28 693.86 253.69 693.98 256.3 694.1 256.3 694.22 254.93 694.34 252.26 694.46 254.22 694.58 253.74 694.7 256.3 694.82 255.26 694.94 256.3 695.06 252.74 695.18 254.84 695.3 256.3 695.42 256.3 695.54 255.06 695.66 255.54 695.78 256.13 695.9 254.98 696.02 253.33 696.14 255.35 696.26 256.3 696.38 255.98 696.5 256.3 696.62 256.3 696.74 255.52 696.86 256.03 696.98 256.3 697.1 255.92 697.22 256.3 697.34 255.47 697.46 256.14 697.58 255.65 697.7 256.17 697.82 255.44 697.94 256.09 698.06 256.02 698.18 256.3 698.3 255.96 698.42 256.3 698.54 254.95 698.66 256.3 698.78 256.05 698.9 256.3 699.02 256.3 699.14 255.99 699.26 256.3 699.38 256.3 699.5 256.3 699.62 256.3 699.74 256.3 699.86 255.91 699.98 256.3 700.5 256.3 760 256.3" fill="none" stroke="#0000ff" stroke-width="1.0" stroke-linejoin="round"/>
<path d="M479.06 181 479.2 175 480 140 480.5 130.8 481.3 160 481.79 181Z" fill="#0000ff" stroke="#0000ff" stroke-width="0.8" stroke-linejoin="round"/>
<path d="M477.3 256.3 478.3 215 479.2 175 480 140 480.5 130.8" fill="none" stroke="#0000ff" stroke-width="1.5" stroke-linejoin="round"/>
<path d="M480.5 130.8 481.3 160 482 190 483 225 484 238" fill="none" stroke="#0000ff" stroke-width="2.6" stroke-linejoin="round"/>
<path d="M519.05 162 519.5 150 520.6 128 521.4 118.5 522.6 145 523.48 162Z" fill="#0000ff" stroke="#0000ff" stroke-width="0.8" stroke-linejoin="round"/>
<path d="M515.6 256.3 516.8 220 518 190 519.5 150 520.6 128 521.4 118.5" fill="none" stroke="#0000ff" stroke-width="1.5" stroke-linejoin="round"/>
<path d="M521.4 118.5 522.6 145 523.9 170 526 205 527.8 226" fill="none" stroke="#0000ff" stroke-width="2.6" stroke-linejoin="round"/>
<path d="M558.13 173 558.7 155 559.7 130 560.4 121.4 561.5 140 562.5 160.7 563.43 173Z" fill="#0000ff" stroke="#0000ff" stroke-width="0.8" stroke-linejoin="round"/>
<path d="M555.6 256.3 556.6 220 557.6 190 558.7 155 559.7 130 560.4 121.4" fill="none" stroke="#0000ff" stroke-width="1.5" stroke-linejoin="round"/>
<path d="M560.4 121.4 561.5 140 562.5 160.7 565 193.6 567.3 219" fill="none" stroke="#0000ff" stroke-width="2.6" stroke-linejoin="round"/>
<path d="M596.67 181 597.3 160 598 142 598.5 134 599.5 145 600.5 160.7 602.04 181Z" fill="#0000ff" stroke="#0000ff" stroke-width="0.8" stroke-linejoin="round"/>
<path d="M594.7 256.3 595.6 220 596.4 190 597.3 160 598 142 598.5 134" fill="none" stroke="#0000ff" stroke-width="1.5" stroke-linejoin="round"/>
<path d="M598.5 134 599.5 145 600.5 160.7 603 193.6 606.3 222" fill="none" stroke="#0000ff" stroke-width="2.6" stroke-linejoin="round"/>
<path d="M636.29 163 636.5 155 637.3 128 637.9 113.8 639 135 640 150 640.78 163Z" fill="#0000ff" stroke="#0000ff" stroke-width="0.8" stroke-linejoin="round"/>
<path d="M634 256.3 634.8 220 635.6 190 636.5 155 637.3 128 637.9 113.8" fill="none" stroke="#0000ff" stroke-width="1.5" stroke-linejoin="round"/>
<path d="M637.9 113.8 639 135 640 150 641.5 175 643.5 205 645.5 222 648 238 651.3 249" fill="none" stroke="#0000ff" stroke-width="2.6" stroke-linejoin="round"/>
<path d="M688.9 256.3V243.5" stroke="#0000ff" stroke-width="1.1"/>
<path d="M704.1 256.3V242.6" stroke="#0000ff" stroke-width="1.1"/>
<path d="M724.2 256.3V247" stroke="#0000ff" stroke-width="1.1"/>
<path d="M98 529 99 529 99.7 528.6 100.7 519.11 101.3 497 101.8 451.39 102.1 405.78 102.3 389.2 102.55 409.93 102.9 465.21 103.3 505.29 103.9 520.49 104.7 525.74 105.7 527.4 113.5 527.4 114.9 516.15 115.5 486.15 116 424.27 116.3 362.4 116.5 339.9 116.75 368.02 117.1 443.02 117.5 497.4 118.1 518.02 118.9 525.15 119.9 527.4 127 527.4 128.4 520.9 129 503.55 129.5 467.78 129.8 432.01 130 419 130.25 435.26 130.6 478.62 131 510.06 131.6 521.98 132.4 526.1 133.4 527.4 140.7 527.4 142.1 524.03 142.7 515.06 143.2 496.55 143.5 478.03 143.7 471.3 143.95 479.72 144.3 502.15 144.7 518.42 145.3 524.6 146.1 526.73 147.1 527.4 155 527.4 156.4 524.73 157 517.61 157.5 502.92 157.8 488.24 158 482.9 158.25 489.57 158.6 507.38 159 520.28 159.6 525.17 160.4 526.87 161.4 527.4 212.6 527.4 214 523.6 214.6 513.45 215.1 492.53 215.4 471.61 215.6 464 215.85 473.51 216.2 498.87 216.6 517.26 217.2 524.23 218 526.64 219 527.4 226.75 527.4 228.15 522.17 228.75 508.24 229.25 479.5 229.55 450.75 229.75 440.3 230 453.37 230.35 488.2 230.75 513.46 231.35 523.04 232.15 526.35 233.15 527.4 240 527.4 241.4 523.42 242 512.79 242.5 490.88 242.8 468.97 243 461 243.25 470.96 243.6 497.52 244 516.78 244.6 524.08 245.4 526.6 246.4 527.4 254.6 527.4 256 524.51 256.6 516.8 257.1 500.89 257.4 484.98 257.6 479.2 257.85 486.43 258.2 505.71 258.6 519.69 259.2 524.99 260 526.82 261 527.4 268.7 527.4 270.1 524.92 270.7 518.31 271.2 504.69 271.5 491.06 271.7 486.1 271.95 492.3 272.3 508.81 272.7 520.79 273.3 525.34 274.1 526.9 275.1 527.4 276.5 527.1 285 527.8 290 528.6 300 529" fill="none" stroke="#0000ff" stroke-width="1.6" stroke-linejoin="round"/>
<path d="M456.4 528.66 457 528.42 457.6 528.27 458.2 527.96 458.8 527.61 459.4 527.43 460 527.23 460.6 526.89 461.2 526.53 461.8 526.26 462.4 526.06 463 525.81 463.6 525.52 464.2 525.34 464.8 525.13 465.4 524.98 466 524.8 466.6 524.6 467.2 524.39 467.8 524.29 468.4 524.47 469 524.61 469.6 524.7 470.2 524.86 470.8 525.04 471.4 524.72 472 524.37 472.6 524.1 473.2 523.94 473.8 523.57 474.4 523.22 475 523.12 475.6 523.05 476.2 522.93 476.8 522.29 477.4 521.54 478 520.81 478.6 520.04 479.2 519.21 479.8 518.22 480.4 517.33 481 515.97 481.6 514.45 482.2 513.02 482.8 511.88 483.4 510.87 484 509.01 484.6 507.13 485.2 505.57 485.8 504.01 486.4 502.5 487 501.33 487.6 500.62 488.2 499.72 488.8 499.25 489.4 499.14 490 499.45 490.6 499.96 491.2 500.17 491.8 500.6 492.4 501.32 493 501.77 493.6 501.63 494.2 501.94 494.8 502.33 495.4 502.75 496 503.47 496.6 504.13 497.2 504.94 497.8 505.31 498.4 505.11 499 505.12 499.6 504.94 500.2 504.66 500.8 503.36 501.4 502.27 502 501.77 502.6 500.85 503.2 499.4 503.8 498.2 504.4 497.35 505 496.08 505.6 494.99 506.2 493.87 506.8 492.54 507.4 491.5 508 491.76 508.6 491.72 509.2 491.23 509.8 491.41 510.4 490.59 511 489.48 511.6 488.26 512.2 487.88 512.8 487.87 513.4 487.19 514 486.95 514.6 486.23 515.2 485.06 515.8 483.97 516.4 483.3 517 485.41 517.6 487.4 518.2 489.56 518.8 491.71 519.4 492 520 492.06 520.6 492.59 521.2 491.7 521.8 489.33 522.4 487.07 523 484.5 523.6 481.86 524.2 478.7 524.8 475.57 525.4 471.88 526 468.29 526.6 465.83 527.2 463.19 527.8 461.13 528.4 461.22 529 460.86 529.6 460.69 530.2 460.47 530.8 460.28 531.4 460.78 532 461.28 532.6 461.18 533.2 461.34 533.8 461.63 534.4 461.54 535 461.54 535.6 461.63 536.2 462.51 536.8 463.39 537.4 464.57 538 466.11 538.6 467.33 539.2 469.04 539.8 469.36 540.4 469.36 541 469.33 541.6 469.01 542.2 469.15 542.8 469.25 543.4 469.62 544 470.02 544.6 469.24 545.2 467.23 545.8 465.45 546.4 464.8 547 464.47 547.6 464.52 548.2 464.78 548.8 465.01 549.4 465.64 550 466.34 550.6 466.85 551.2 466.53 551.8 466.46 552.4 466.9 553 466.88 553.6 467.16 554.2 467.41 554.8 467.43 555.4 467.9 556 470.62 556.6 474.45 557.2 477.73 557.8 478.44 558.4 479.04 559 480.01 559.6 481.13 560.2 479.83 560.8 478.24 561.4 476.69 562 473.46 562.6 468.82 563.2 464.14 563.8 458.83 564.4 455.15 565 454.76 565.6 453.67 566.2 452.69 566.8 451.59 567.4 450.98 568 450.23 568.6 449.63 569.2 449.72 569.8 450.16 570.4 451.36 571 453.12 571.6 453.62 572.2 453.97 572.8 454.49 573.4 454.7 574 454.55 574.6 454.64 575.2 454.79 575.8 454.41 576.4 454.05 577 454.03 577.6 454.62 578.2 454.91 578.8 454.85 579.4 454.9 580 453.45 580.6 452.25 581.2 450.58 581.8 449.03 582.4 447.89 583 447.15 583.6 446.24 584.2 444.95 584.8 444.36 585.4 443.36 586 441.8 586.6 440.68 587.2 440.21 587.8 440.15 588.4 439.72 589 438.84 589.6 438.08 590.2 436.82 590.8 435.01 591.4 433.52 592 432.35 592.6 430.72 593.2 428.69 593.8 429.78 594.4 432.08 595 433.64 595.6 438.05 596.2 443.66 596.8 447.08 597.4 450.4 598 453.87 598.6 454.68 599.2 454.13 599.8 453.76 600.4 451.57 601 448.57 601.6 443.99 602.2 439.37 602.8 435.17 603.4 430.74 604 426.17 604.6 422.68 605.2 421 605.8 419.37 606.4 417.66 607 415.91 607.6 415.13 608.2 414.17 608.8 413.18 609.4 413.15 610 416.26 610.6 418.97 611.2 422.37 611.8 424.18 612.4 425.19 613 426.85 613.6 427.85 614.2 429.3 614.8 430.43 615.4 430.09 616 428.98 616.6 427.55 617.2 425.57 617.8 425.15 618.4 425.42 619 425.73 619.6 426.04 620.2 424.33 620.8 422.59 621.4 421.51 622 419.78 622.6 418.22 623.2 417.33 623.8 416.42 624.4 416.42 625 416.55 625.6 417.01 626.2 417.98 626.8 419.33 627.4 419.77 628 420.25 628.6 421.45 629.2 422.64 629.8 424.01 630.4 425.39 631 426.11 631.6 425.42 632.2 424.3 632.8 425.74 633.4 429.1 634 432.17 634.6 435.87 635.2 438.93 635.8 440.83 636.4 443.01 637 445.64 637.6 445.95 638.2 443.11 638.8 440.44 639.4 437.71 640 433.25 640.6 428.05 641.2 423.05 641.8 418.3 642.4 413.24 643 408.38 643.6 403.89 644.2 400.36 644.8 396.58 645.4 393.28 646 392.1 646.6 390.84 647.2 389.78 647.8 389.81 648.4 390.75 649 391.96 649.6 392.87 650.2 394.3 650.8 395.44 651.4 397 652 398.8 652.6 400.25 653.2 402.46 653.8 404.15 654.4 406.27 655 408.47 655.6 410.24 656.2 412.53 656.8 414.57 657.4 415.24 658 415.56 658.6 416.38 659.2 418.75 659.8 420.93 660.4 422.68 661 422.36 661.6 421.89 662.2 421.07 662.8 421.51 663.4 423 664 423.89 664.6 424.46 665.2 424.45 665.8 424.68 666.4 425.15 667 425.81 667.6 427.26 668.2 428.97 668.8 430.41 669.4 431.77 670 433.38 670.6 435.14 671.2 437.68 671.8 440.07 672.4 442.82 673 444.72 673.6 447.25 674.2 450.12 674.8 451.82 675.4 453.4 676 455.38 676.6 457.29 677.2 459.35 677.8 461.71 678.4 464 679 465.86 679.6 467.53 680.2 469.6 680.8 471.57 681.4 473.12 682 474.69 682.6 476.26 683.2 477.21 683.8 478.71 684.4 480.19 685 481.31 685.6 482.39 686.2 483.28 686.8 483.81 687.4 484.19 688 484.65 688.6 485.47 689.2 486.48 689.8 486.81 690.4 487.01 691 487.81 691.6 488.46 692.2 488.58 692.8 488.79 693.4 489.39 694 490.84 694.6 491.65 695.2 492.59 695.8 493.51 696.4 493.77 697 494.82 697.6 495.62 698.2 496.26 698.8 496.91 699.4 497.42 700 498.28 700.6 499.34 701.2 500.13 701.8 500.43 702.4 501.32 703 502.33 703.6 502.88 704.2 503.49 704.8 503.82 705.4 504.91 706 505.88 706.6 506.15 707.2 506.95 707.8 507.53 708.4 507.78 709 508.04 709.6 508.53 710.2 509.15 710.8 509.65 711.4 509.78 712 510.12 712.6 510.62 713.2 511.02 713.8 511.35 714.4 511.81 715 512.17 715.6 512.45 716.2 512.79 716.8 512.94 717.4 513.15 718 513.55 718.6 514.09 719.2 514.61 719.8 514.87 720.4 514.99 721 515.28 721.6 515.83 722.2 516.24 722.8 516.33 723.4 516.67 724 516.84 724.6 517.05 725.2 517.44 725.8 517.68 726.4 517.84 727 518.21 727.6 518.73 728.2 518.79 728.8 518.9 729.4 519.3 730 519.71 730.6 519.86 731.2 519.85 731.8 520.12 732.4 520.57 733 520.81 733.6 520.92 734.2 521.26 734.8 521.25 735.4 521.14 736 521.48 736.6 521.81 737.2 521.81 737.8 521.94 738.4 522.17 739 522.3 739.6 522.4 740.2 522.48 740.8 522.57 741.4 522.69 742 522.81 742.6 522.98 743.2 523.12 743.8 523.05 744.4 523.13 745 523.36 745.6 523.45 746.2 523.44 746.8 523.4 747.4 523.35 748 523.28 748.6 523.25 749.2 523.2 749.8 523.19 750.4 523.17 751 522.99 751.6 523.08 752.2 523.15 752.8 523.12 753.4 523.13 754 523.19 754.6 523.23 755.2 523.34 755.8 523.5 756.4 523.62 757 523.83 757.6 523.92 758.2 523.98 758.8 524.18 759 524.2" fill="none" stroke="#0000ff" stroke-width="1.4" stroke-linejoin="round"/>
<path d="M71 43.2V256.3H375.5" fill="none" stroke="#000" stroke-width="1.6" stroke-linecap="square"/>
<path d="M71 256.3V261.9" stroke="#000" stroke-width="1.6"/>
<text x="71" y="276.6" font-size="13.4" text-anchor="middle" font-weight="normal" textLength="7.95" lengthAdjust="spacingAndGlyphs" stroke="#000" stroke-width="0.3">0</text>
<path d="M127.8 256.3V261.9" stroke="#000" stroke-width="1.6"/>
<text x="127.8" y="276.6" font-size="13.4" text-anchor="middle" font-weight="normal" textLength="7.95" lengthAdjust="spacingAndGlyphs" stroke="#000" stroke-width="0.3">2</text>
<path d="M184.6 256.3V261.9" stroke="#000" stroke-width="1.6"/>
<text x="184.6" y="276.6" font-size="13.4" text-anchor="middle" font-weight="normal" textLength="7.95" lengthAdjust="spacingAndGlyphs" stroke="#000" stroke-width="0.3">4</text>
<path d="M241.4 256.3V261.9" stroke="#000" stroke-width="1.6"/>
<text x="241.4" y="276.6" font-size="13.4" text-anchor="middle" font-weight="normal" textLength="7.95" lengthAdjust="spacingAndGlyphs" stroke="#000" stroke-width="0.3">6</text>
<path d="M298.2 256.3V261.9" stroke="#000" stroke-width="1.6"/>
<text x="298.2" y="276.6" font-size="13.4" text-anchor="middle" font-weight="normal" textLength="7.95" lengthAdjust="spacingAndGlyphs" stroke="#000" stroke-width="0.3">8</text>
<path d="M355 256.3V261.9" stroke="#000" stroke-width="1.6"/>
<text x="355" y="276.6" font-size="13.4" text-anchor="middle" font-weight="normal" textLength="15.9" lengthAdjust="spacingAndGlyphs" stroke="#000" stroke-width="0.3">10</text>
<path d="M65.5 256.3H71" stroke="#000" stroke-width="1.6"/>
<text x="59.6" y="261.7" font-size="13.4" text-anchor="end" font-weight="normal" textLength="7.95" lengthAdjust="spacingAndGlyphs" stroke="#000" stroke-width="0.3">0</text>
<path d="M65.5 203.03H71" stroke="#000" stroke-width="1.6"/>
<text x="59.6" y="208.43" font-size="13.4" text-anchor="end" font-weight="normal" textLength="23.59" lengthAdjust="spacingAndGlyphs" stroke="#000" stroke-width="0.3">2e5</text>
<path d="M65.5 149.75H71" stroke="#000" stroke-width="1.6"/>
<text x="59.6" y="155.15" font-size="13.4" text-anchor="end" font-weight="normal" textLength="23.59" lengthAdjust="spacingAndGlyphs" stroke="#000" stroke-width="0.3">4e5</text>
<path d="M65.5 96.48H71" stroke="#000" stroke-width="1.6"/>
<text x="59.6" y="101.88" font-size="13.4" text-anchor="end" font-weight="normal" textLength="23.59" lengthAdjust="spacingAndGlyphs" stroke="#000" stroke-width="0.3">6e5</text>
<path d="M65.5 43.2H71" stroke="#000" stroke-width="1.6"/>
<text x="59.6" y="48.6" font-size="13.4" text-anchor="end" font-weight="normal" textLength="23.59" lengthAdjust="spacingAndGlyphs" stroke="#000" stroke-width="0.3">8e5</text>
<text x="226.9" y="291.6" font-size="14.2" text-anchor="middle" font-weight="bold" textLength="60.4" lengthAdjust="spacingAndGlyphs">time (s)</text>
<path d="M446.3 43.2V256.3H759.6" fill="none" stroke="#000" stroke-width="1.6" stroke-linecap="square"/>
<path d="M446.3 256.3V261.9" stroke="#000" stroke-width="1.6"/>
<text x="446.3" y="276.6" font-size="13.4" text-anchor="middle" font-weight="normal" textLength="7.95" lengthAdjust="spacingAndGlyphs" stroke="#000" stroke-width="0.3">1</text>
<path d="M543.92 256.3V261.9" stroke="#000" stroke-width="1.6"/>
<text x="543.92" y="276.6" font-size="13.4" text-anchor="middle" font-weight="normal" textLength="27.83" lengthAdjust="spacingAndGlyphs" stroke="#000" stroke-width="0.3">1.05</text>
<path d="M641.53 256.3V261.9" stroke="#000" stroke-width="1.6"/>
<text x="641.53" y="276.6" font-size="13.4" text-anchor="middle" font-weight="normal" textLength="19.88" lengthAdjust="spacingAndGlyphs" stroke="#000" stroke-width="0.3">1.1</text>
<path d="M739.14 256.3V261.9" stroke="#000" stroke-width="1.6"/>
<text x="739.14" y="276.6" font-size="13.4" text-anchor="middle" font-weight="normal" textLength="27.83" lengthAdjust="spacingAndGlyphs" stroke="#000" stroke-width="0.3">1.15</text>
<path d="M440.8 256.3H446.3" stroke="#000" stroke-width="1.6"/>
<text x="434.9" y="261.7" font-size="13.4" text-anchor="end" font-weight="normal" textLength="7.95" lengthAdjust="spacingAndGlyphs" stroke="#000" stroke-width="0.3">0</text>
<path d="M440.8 203.03H446.3" stroke="#000" stroke-width="1.6"/>
<text x="434.9" y="208.43" font-size="13.4" text-anchor="end" font-weight="normal" textLength="23.59" lengthAdjust="spacingAndGlyphs" stroke="#000" stroke-width="0.3">2e5</text>
<path d="M440.8 149.75H446.3" stroke="#000" stroke-width="1.6"/>
<text x="434.9" y="155.15" font-size="13.4" text-anchor="end" font-weight="normal" textLength="23.59" lengthAdjust="spacingAndGlyphs" stroke="#000" stroke-width="0.3">4e5</text>
<path d="M440.8 96.48H446.3" stroke="#000" stroke-width="1.6"/>
<text x="434.9" y="101.88" font-size="13.4" text-anchor="end" font-weight="normal" textLength="23.59" lengthAdjust="spacingAndGlyphs" stroke="#000" stroke-width="0.3">6e5</text>
<path d="M440.8 43.2H446.3" stroke="#000" stroke-width="1.6"/>
<text x="434.9" y="48.6" font-size="13.4" text-anchor="end" font-weight="normal" textLength="23.59" lengthAdjust="spacingAndGlyphs" stroke="#000" stroke-width="0.3">8e5</text>
<text x="602.45" y="291.7" font-size="14.2" text-anchor="middle" font-weight="bold" textLength="60.7" lengthAdjust="spacingAndGlyphs">time (s)</text>
<path d="M71 316.7V529.1H375.5" fill="none" stroke="#000" stroke-width="1.6" stroke-linecap="square"/>
<path d="M71 529.1V534.7" stroke="#000" stroke-width="1.6"/>
<text x="71" y="549.8" font-size="13.4" text-anchor="middle" font-weight="normal" textLength="7.95" lengthAdjust="spacingAndGlyphs" stroke="#000" stroke-width="0.3">0</text>
<path d="M127.8 529.1V534.7" stroke="#000" stroke-width="1.6"/>
<text x="127.8" y="549.8" font-size="13.4" text-anchor="middle" font-weight="normal" textLength="7.95" lengthAdjust="spacingAndGlyphs" stroke="#000" stroke-width="0.3">2</text>
<path d="M184.6 529.1V534.7" stroke="#000" stroke-width="1.6"/>
<text x="184.6" y="549.8" font-size="13.4" text-anchor="middle" font-weight="normal" textLength="7.95" lengthAdjust="spacingAndGlyphs" stroke="#000" stroke-width="0.3">4</text>
<path d="M241.4 529.1V534.7" stroke="#000" stroke-width="1.6"/>
<text x="241.4" y="549.8" font-size="13.4" text-anchor="middle" font-weight="normal" textLength="7.95" lengthAdjust="spacingAndGlyphs" stroke="#000" stroke-width="0.3">6</text>
<path d="M298.2 529.1V534.7" stroke="#000" stroke-width="1.6"/>
<text x="298.2" y="549.8" font-size="13.4" text-anchor="middle" font-weight="normal" textLength="7.95" lengthAdjust="spacingAndGlyphs" stroke="#000" stroke-width="0.3">8</text>
<path d="M355 529.1V534.7" stroke="#000" stroke-width="1.6"/>
<text x="355" y="549.8" font-size="13.4" text-anchor="middle" font-weight="normal" textLength="15.9" lengthAdjust="spacingAndGlyphs" stroke="#000" stroke-width="0.3">10</text>
<path d="M65.5 529.1H71" stroke="#000" stroke-width="1.6"/>
<text x="59.6" y="534.5" font-size="13.4" text-anchor="end" font-weight="normal" textLength="7.95" lengthAdjust="spacingAndGlyphs" stroke="#000" stroke-width="0.3">0</text>
<path d="M65.5 476H71" stroke="#000" stroke-width="1.6"/>
<text x="59.6" y="481.4" font-size="13.4" text-anchor="end" font-weight="normal" textLength="23.85" lengthAdjust="spacingAndGlyphs" stroke="#000" stroke-width="0.3">500</text>
<path d="M65.5 422.9H71" stroke="#000" stroke-width="1.6"/>
<text x="59.6" y="428.3" font-size="13.4" text-anchor="end" font-weight="normal" textLength="31.8" lengthAdjust="spacingAndGlyphs" stroke="#000" stroke-width="0.3">1000</text>
<path d="M65.5 369.8H71" stroke="#000" stroke-width="1.6"/>
<text x="59.6" y="375.2" font-size="13.4" text-anchor="end" font-weight="normal" textLength="31.8" lengthAdjust="spacingAndGlyphs" stroke="#000" stroke-width="0.3">1500</text>
<path d="M65.5 316.7H71" stroke="#000" stroke-width="1.6"/>
<text x="59.6" y="322.1" font-size="13.4" text-anchor="end" font-weight="normal" textLength="31.8" lengthAdjust="spacingAndGlyphs" stroke="#000" stroke-width="0.3">2000</text>
<text x="226.75" y="565.4" font-size="14.2" text-anchor="middle" font-weight="bold" textLength="60.5" lengthAdjust="spacingAndGlyphs">time (s)</text>
<path d="M446.6 316.7V529.1H759.5" fill="none" stroke="#000" stroke-width="1.6" stroke-linecap="square"/>
<path d="M446.3 529.1V534.7" stroke="#000" stroke-width="1.6"/>
<text x="446.3" y="549.8" font-size="13.4" text-anchor="middle" font-weight="normal" textLength="7.95" lengthAdjust="spacingAndGlyphs" stroke="#000" stroke-width="0.3">1</text>
<path d="M543.92 529.1V534.7" stroke="#000" stroke-width="1.6"/>
<text x="543.92" y="549.8" font-size="13.4" text-anchor="middle" font-weight="normal" textLength="27.83" lengthAdjust="spacingAndGlyphs" stroke="#000" stroke-width="0.3">1.05</text>
<path d="M641.53 529.1V534.7" stroke="#000" stroke-width="1.6"/>
<text x="641.53" y="549.8" font-size="13.4" text-anchor="middle" font-weight="normal" textLength="19.88" lengthAdjust="spacingAndGlyphs" stroke="#000" stroke-width="0.3">1.1</text>
<path d="M739.14 529.1V534.7" stroke="#000" stroke-width="1.6"/>
<text x="739.14" y="549.8" font-size="13.4" text-anchor="middle" font-weight="normal" textLength="27.83" lengthAdjust="spacingAndGlyphs" stroke="#000" stroke-width="0.3">1.15</text>
<path d="M441.1 529.1H446.6" stroke="#000" stroke-width="1.6"/>
<text x="435.2" y="534.5" font-size="13.4" text-anchor="end" font-weight="normal" textLength="7.95" lengthAdjust="spacingAndGlyphs" stroke="#000" stroke-width="0.3">0</text>
<path d="M441.1 476H446.6" stroke="#000" stroke-width="1.6"/>
<text x="435.2" y="481.4" font-size="13.4" text-anchor="end" font-weight="normal" textLength="23.85" lengthAdjust="spacingAndGlyphs" stroke="#000" stroke-width="0.3">500</text>
<path d="M441.1 422.9H446.6" stroke="#000" stroke-width="1.6"/>
<text x="435.2" y="428.3" font-size="13.4" text-anchor="end" font-weight="normal" textLength="31.8" lengthAdjust="spacingAndGlyphs" stroke="#000" stroke-width="0.3">1000</text>
<path d="M441.1 369.8H446.6" stroke="#000" stroke-width="1.6"/>
<text x="435.2" y="375.2" font-size="13.4" text-anchor="end" font-weight="normal" textLength="31.8" lengthAdjust="spacingAndGlyphs" stroke="#000" stroke-width="0.3">1500</text>
<path d="M441.1 316.7H446.6" stroke="#000" stroke-width="1.6"/>
<text x="435.2" y="322.1" font-size="13.4" text-anchor="end" font-weight="normal" textLength="31.8" lengthAdjust="spacingAndGlyphs" stroke="#000" stroke-width="0.3">2000</text>
<text x="602.5" y="565.4" font-size="14.2" text-anchor="middle" font-weight="bold" textLength="60.4" lengthAdjust="spacingAndGlyphs">time (s)</text>
<text transform="translate(32.2 149.9) rotate(-90)" font-size="14.2" font-weight="bold" text-anchor="middle" textLength="229.2" lengthAdjust="spacingAndGlyphs">Calcium flux rate (number/s)</text>
<text transform="translate(407.6 149.9) rotate(-90)" font-size="14.2" font-weight="bold" text-anchor="middle" textLength="229.2" lengthAdjust="spacingAndGlyphs">Calcium flux rate (number/s)</text>
<text transform="translate(23 423.7) rotate(-90)" font-size="14.2" font-weight="bold" text-anchor="middle" textLength="178.2" lengthAdjust="spacingAndGlyphs">free Calcium (number)</text>
<text transform="translate(398.8 423.4) rotate(-90)" font-size="14.2" font-weight="bold" text-anchor="middle" textLength="178.4" lengthAdjust="spacingAndGlyphs">free Calcium (number)</text>
<path d="M261.9 55.4H281.9" stroke="#008000" stroke-width="1.3"/>
<path d="M261.9 69.6H281.9" stroke="#0000ff" stroke-width="1.3" stroke-opacity="0.75"/>
<text x="289.2" y="59" font-size="9.4" text-anchor="start" font-weight="bold" textLength="86.2" lengthAdjust="spacingAndGlyphs">through NMDAR</text>
<text x="289.2" y="72.7" font-size="9.4" text-anchor="start" font-weight="bold" textLength="75.2" lengthAdjust="spacingAndGlyphs">through VDCC</text>
<path d="M637.5 55.4H657.5" stroke="#008000" stroke-width="1.3"/>
<path d="M637.5 69.6H657.5" stroke="#0000ff" stroke-width="1.3" stroke-opacity="0.75"/>
<text x="664.8" y="59" font-size="9.4" text-anchor="start" font-weight="bold" textLength="86.2" lengthAdjust="spacingAndGlyphs">through NMDAR</text>
<text x="664.8" y="72.7" font-size="9.4" text-anchor="start" font-weight="bold" textLength="75.2" lengthAdjust="spacingAndGlyphs">through VDCC</text>
<text x="6.05" y="30.2" font-size="27.4" text-anchor="start" font-weight="normal" textLength="24.08" lengthAdjust="spacingAndGlyphs">A.</text>
<text x="388.53" y="30.2" font-size="27.4" text-anchor="start" font-weight="normal" textLength="23.88" lengthAdjust="spacingAndGlyphs">B.</text>
<text x="4.76" y="307.7" font-size="27.4" text-anchor="start" font-weight="normal" textLength="26.34" lengthAdjust="spacingAndGlyphs">C.</text>
<text x="388.14" y="307.9" font-size="27.4" text-anchor="start" font-weight="normal" textLength="25.71" lengthAdjust="spacingAndGlyphs">D.</text>
<rect x="2" y="1.8" width="764" height="572.2" fill="none" stroke="#808080" stroke-width="1.8"/></svg></body></html>
